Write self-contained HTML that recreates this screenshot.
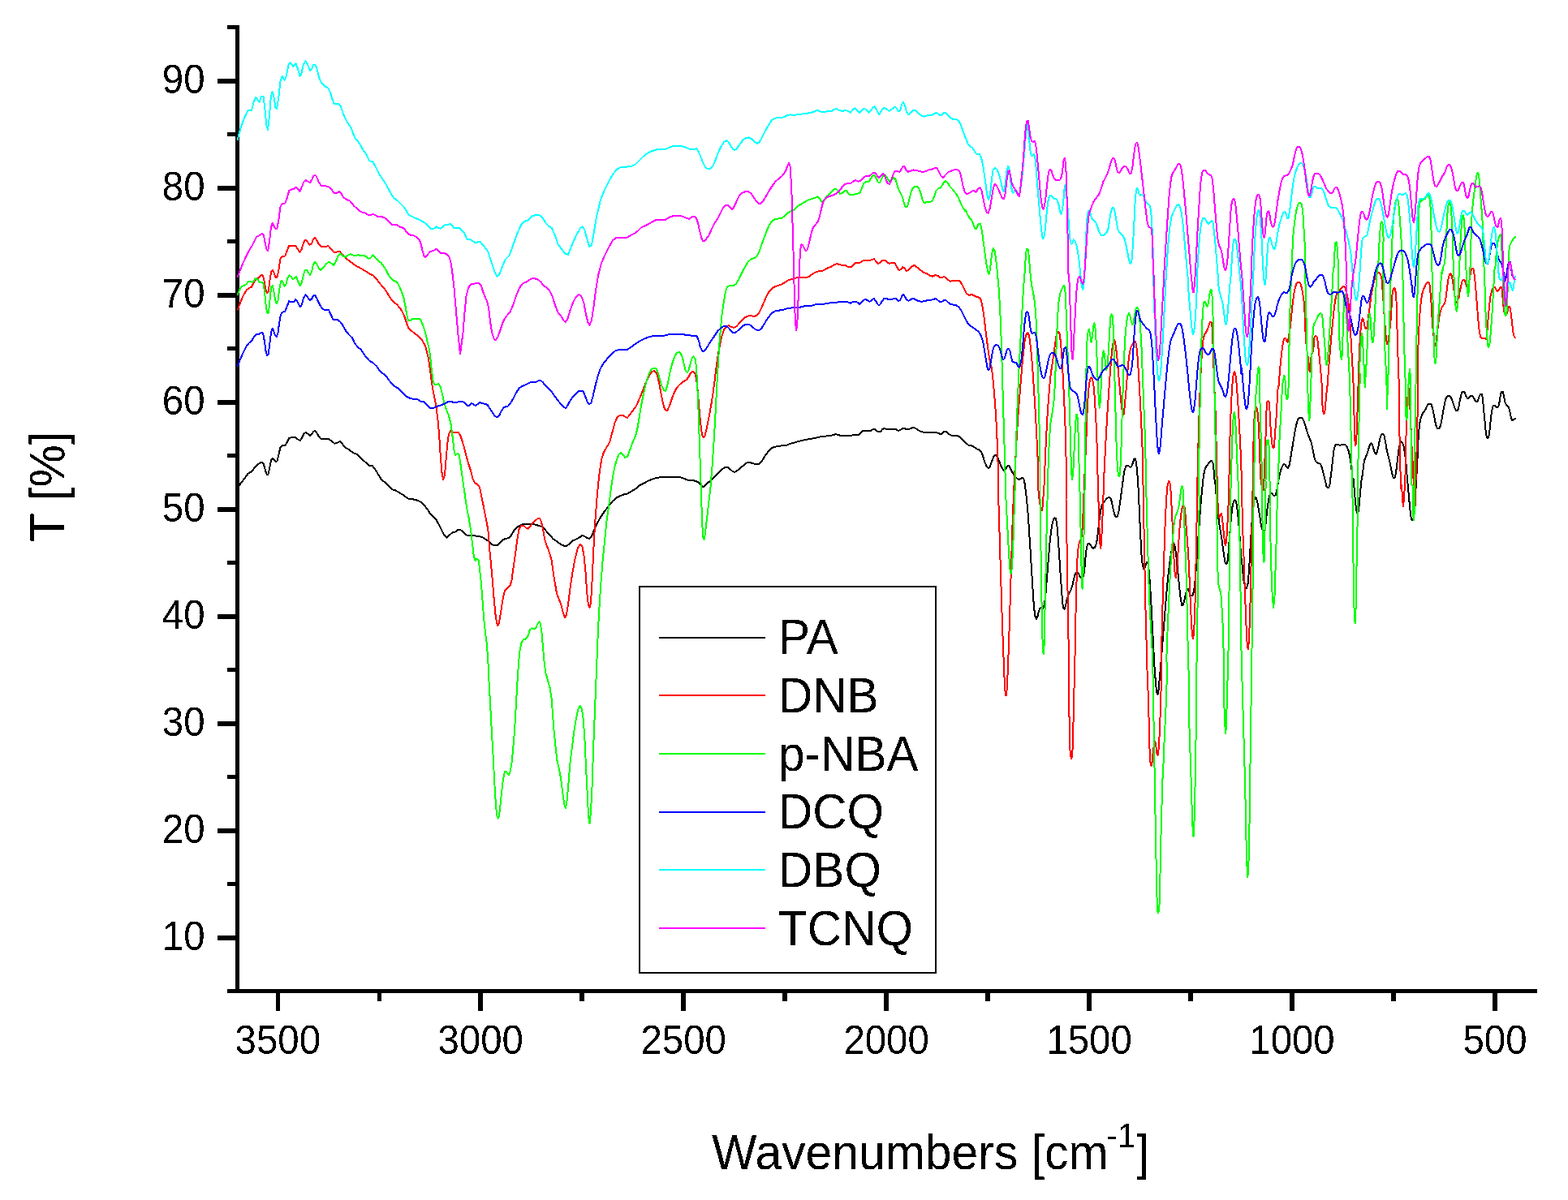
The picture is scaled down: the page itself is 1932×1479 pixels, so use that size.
<!DOCTYPE html>
<html lang="en">
<head>
<meta charset="utf-8">
<title>FTIR spectra</title>
<style>
html,body{margin:0;padding:0;background:#fff;}
body{width:1932px;height:1479px;overflow:hidden;}
svg{display:block;}
text{font-family:"Liberation Sans",Arial,Helvetica,sans-serif;fill:#000;filter:url(#crisp);}
.tick{font-size:47.4px;}
.ttl{font-size:58.9px;}
.leg{font-size:58.6px;}
.ax{stroke:#000;fill:none;shape-rendering:crispEdges;}
.cv{fill:none;stroke-width:2;stroke-linejoin:round;stroke-linecap:butt;shape-rendering:crispEdges;}
</style>
</head>
<body>
<svg width="1932" height="1479" viewBox="0 0 1932 1479">
<defs><filter id="crisp" x="-10%" y="-10%" width="120%" height="120%" color-interpolation-filters="sRGB"><feComponentTransfer><feFuncA type="discrete" tableValues="0 1"/></feComponentTransfer></filter></defs>
<rect x="0" y="0" width="1932" height="1479" fill="#fff"/>
<g id="axes" fill="#000" shape-rendering="crispEdges">
<rect x="290" y="31" width="5" height="1193"/>
<rect x="280" y="1219" width="1614" height="5"/>
<rect x="268" y="1153" width="24" height="6"/>
<rect x="268" y="1021" width="24" height="6"/>
<rect x="268" y="889" width="24" height="6"/>
<rect x="268" y="757" width="24" height="6"/>
<rect x="268" y="625" width="24" height="6"/>
<rect x="268" y="493" width="24" height="6"/>
<rect x="268" y="361" width="24" height="6"/>
<rect x="268" y="229" width="24" height="6"/>
<rect x="268" y="97" width="24" height="6"/>
<rect x="280" y="1087" width="12" height="5"/>
<rect x="280" y="955" width="12" height="5"/>
<rect x="280" y="823" width="12" height="5"/>
<rect x="280" y="691" width="12" height="5"/>
<rect x="280" y="559" width="12" height="5"/>
<rect x="280" y="427" width="12" height="5"/>
<rect x="280" y="295" width="12" height="5"/>
<rect x="280" y="163" width="12" height="5"/>
<rect x="280" y="31" width="12" height="5"/>
<rect x="1839" y="1220" width="6" height="26"/>
<rect x="1589" y="1220" width="6" height="26"/>
<rect x="1339" y="1220" width="6" height="26"/>
<rect x="1089" y="1220" width="6" height="26"/>
<rect x="839" y="1220" width="6" height="26"/>
<rect x="589" y="1220" width="6" height="26"/>
<rect x="340" y="1220" width="5" height="26"/>
<rect x="1714" y="1220" width="6" height="14"/>
<rect x="1464" y="1220" width="6" height="14"/>
<rect x="1214" y="1220" width="6" height="14"/>
<rect x="964" y="1220" width="6" height="14"/>
<rect x="714" y="1220" width="6" height="14"/>
<rect x="465" y="1220" width="5" height="14"/>
</g>
<g id="curves">
<polyline class="cv" stroke="#000000" points="292.5,602.5 296.2,596.2 301.2,590.0 305.5,583.8 310.0,581.2 313.8,576.2 317.5,572.5 321.2,570.0 323.2,569.5 325.0,572.5 327.0,580.0 328.8,585.0 330.2,585.5 332.0,577.5 334.0,567.5 335.8,564.5 338.0,567.0 340.0,569.5 341.5,568.0 343.5,560.0 345.5,551.2 347.5,549.5 351.2,548.8 353.8,545.0 356.2,540.0 359.5,539.2 364.5,539.2 367.5,542.0 370.0,543.0 372.0,539.5 374.5,534.5 377.0,533.0 379.5,535.0 382.0,536.8 384.5,535.0 386.2,532.0 388.0,531.0 390.0,533.0 392.5,537.5 395.0,540.5 400.0,541.2 405.0,541.2 408.8,543.8 412.5,546.8 416.2,545.5 418.8,544.2 421.2,546.2 425.0,551.2 430.0,554.2 435.0,558.0 440.0,560.0 445.0,565.0 450.0,569.5 455.0,573.8 458.8,574.2 462.5,578.8 466.2,585.0 470.0,591.2 475.0,595.0 478.8,598.8 482.5,603.0 487.5,604.5 492.5,607.5 497.5,610.5 502.5,614.5 507.5,615.0 512.5,616.2 517.5,618.0 522.5,622.5 526.2,627.0 530.0,633.0 533.8,637.0 537.5,640.5 541.2,647.5 545.0,655.0 548.0,660.5 550.5,662.5 553.8,659.5 557.5,656.2 561.2,655.5 563.8,653.2 566.2,652.5 569.5,654.2 573.0,658.0 576.2,660.5 581.2,660.0 586.2,660.5 591.2,661.2 595.0,662.5 598.8,665.0 602.5,667.5 606.2,671.2 609.5,672.5 613.0,672.0 616.2,668.8 620.0,665.0 623.8,663.8 627.5,663.0 630.5,658.8 633.8,653.2 637.5,649.5 642.5,646.8 647.5,645.5 652.5,645.5 657.5,646.2 662.5,647.5 667.5,648.8 671.2,652.5 676.2,658.0 681.2,663.8 686.2,667.5 691.2,671.2 695.5,673.0 698.8,672.5 702.5,669.5 706.2,666.2 710.0,664.5 713.8,662.5 717.5,660.0 720.5,661.2 723.8,663.2 726.2,663.8 728.8,661.2 731.2,655.0 735.0,646.2 740.0,637.5 745.0,630.0 750.0,623.8 755.0,617.5 760.0,613.2 765.0,610.8 770.0,609.0 772.8,608.5 778.0,605.5 783.0,602.5 788.0,598.2 793.0,595.8 798.0,593.0 803.0,590.8 809.2,588.8 815.5,588.2 821.8,587.5 828.0,587.5 834.2,587.5 838.5,588.2 843.0,590.0 848.0,591.8 853.0,592.0 858.0,593.0 861.8,595.5 864.2,598.8 866.8,600.0 869.2,597.5 871.8,595.0 875.5,593.0 879.2,589.2 883.0,585.0 886.8,581.2 890.0,578.0 893.0,576.2 896.8,576.2 900.0,578.8 903.0,581.2 905.5,581.8 909.2,579.5 913.0,576.2 916.8,573.0 920.0,570.5 923.0,570.0 926.8,570.8 930.5,572.0 934.2,572.5 936.8,570.8 940.0,566.2 943.0,561.2 946.8,556.2 950.5,552.5 954.2,550.8 959.2,550.0 964.2,549.2 969.2,548.8 973.0,547.0 978.0,545.8 983.0,544.2 988.0,543.0 993.0,541.8 999.2,540.8 1004.2,540.0 1008.0,538.8 1013.0,538.0 1018.0,537.5 1023.0,537.0 1026.8,536.2 1030.0,535.0 1033.0,536.2 1036.8,537.0 1041.8,537.0 1048.0,536.8 1053.0,536.2 1058.0,536.2 1060.5,533.8 1063.0,531.2 1066.0,530.5 1069.2,531.2 1072.5,531.2 1075.0,529.5 1077.5,528.8 1080.0,530.8 1082.5,532.5 1085.0,531.8 1087.5,528.8 1090.0,528.0 1093.0,529.2 1096.8,529.5 1100.5,529.0 1103.5,529.0 1106.8,530.8 1109.2,530.0 1111.8,528.2 1114.2,528.0 1117.5,529.5 1120.5,528.8 1123.5,527.5 1126.0,527.0 1128.5,528.2 1131.8,530.5 1135.0,531.8 1138.0,532.8 1143.0,532.8 1148.0,532.8 1153.0,532.8 1156.8,534.2 1159.2,535.5 1161.8,533.2 1164.2,531.5 1166.8,532.5 1169.2,535.0 1172.5,536.8 1176.8,537.0 1180.5,537.5 1183.5,539.2 1186.8,542.5 1190.0,545.8 1193.0,548.5 1196.8,549.2 1200.0,550.8 1203.0,553.0 1206.8,554.5 1209.2,557.0 1211.2,562.5 1213.5,570.0 1216.0,575.5 1218.0,577.5 1220.0,574.5 1222.0,568.8 1224.2,563.0 1226.8,560.5 1229.2,563.8 1231.8,570.0 1234.2,576.2 1236.8,580.0 1239.2,578.0 1241.2,574.5 1243.0,573.8 1245.0,577.5 1247.5,582.5 1250.5,587.0 1253.0,589.5 1255.8,591.2 1255.6,590.8 1258.6,589.5 1260.4,589.0 1261.8,591.7 1262.9,597.6 1263.9,606.4 1265.0,615.2 1266.0,625.8 1267.1,639.8 1268.1,655.7 1269.2,671.5 1270.2,689.1 1271.3,706.7 1272.4,724.3 1273.4,740.1 1274.5,752.5 1275.5,759.5 1276.9,763.0 1278.3,760.4 1279.8,754.2 1281.2,749.8 1282.6,749.3 1285.0,749.8 1286.8,745.4 1288.2,734.9 1289.6,717.3 1291.0,699.7 1292.4,682.1 1293.8,666.2 1295.2,653.9 1296.6,645.1 1298.1,639.8 1299.5,638.1 1300.9,639.0 1301.9,643.4 1303.0,653.9 1304.0,668.0 1305.1,683.8 1306.1,699.7 1307.2,715.5 1308.3,731.3 1309.3,743.7 1310.4,749.8 1311.8,750.7 1313.2,745.4 1314.6,738.4 1316.4,733.1 1318.1,729.6 1319.9,726.1 1321.6,720.8 1323.0,713.7 1324.5,708.5 1325.9,705.8 1327.6,705.3 1329.4,707.6 1330.8,711.1 1332.5,712.0 1334.3,711.1 1335.7,706.7 1336.8,696.1 1337.8,683.8 1338.9,675.0 1340.3,670.1 1341.7,669.8 1343.5,671.5 1345.2,674.2 1347.0,675.9 1348.7,675.0 1350.5,671.5 1351.9,664.5 1353.3,652.2 1354.7,639.8 1356.1,629.3 1357.5,623.1 1359.3,619.6 1361.6,617.0 1363.9,614.3 1366.0,612.6 1367.7,613.1 1369.2,616.1 1370.6,622.2 1372.0,629.3 1373.4,634.6 1375.1,637.2 1376.9,636.3 1378.3,631.0 1379.7,622.2 1381.1,611.7 1382.5,601.1 1383.9,590.6 1383.9,589.9 1385.3,581.1 1387.1,574.9 1388.9,573.5 1390.6,574.1 1392.4,575.8 1394.1,574.9 1395.9,570.5 1397.3,566.1 1398.7,565.3 1399.8,568.8 1400.8,577.6 1401.9,589.9 1401.9,590.6 1402.6,602.9 1403.3,617.0 1404.0,632.8 1404.7,648.6 1405.4,662.7 1406.1,676.8 1406.8,689.1 1407.9,697.0 1409.3,701.1 1410.7,699.7 1412.1,694.4 1413.5,692.6 1414.9,696.1 1416.0,706.7 1417.0,720.8 1418.1,738.4 1419.1,757.7 1420.2,777.1 1421.2,798.2 1422.3,819.3 1423.4,834.1 1424.4,846.4 1425.5,854.3 1426.5,856.1 1427.6,849.9 1428.6,837.6 1429.7,826.4 1431.1,808.8 1432.5,791.2 1433.9,773.6 1435.3,756.0 1436.7,738.4 1438.1,722.5 1439.5,708.5 1441.0,696.1 1442.4,685.6 1443.8,677.7 1445.2,672.4 1446.6,670.6 1448.0,675.0 1449.4,685.6 1450.8,699.7 1452.2,713.7 1453.6,727.8 1455.0,740.1 1456.4,746.3 1457.8,745.4 1459.3,740.1 1460.7,733.1 1462.1,727.8 1463.5,725.7 1464.9,727.8 1466.3,733.1 1468.1,734.5 1469.8,733.1 1471.2,727.8 1472.3,719.0 1473.3,706.7 1474.4,692.6 1475.4,676.8 1476.5,661.0 1477.6,646.9 1478.6,632.8 1480.0,615.2 1481.4,601.1 1482.5,589.9 1483.9,581.1 1485.7,575.8 1487.8,573.2 1489.5,570.5 1491.3,568.3 1493.0,567.9 1494.5,570.5 1495.5,579.3 1496.6,591.7 1497.1,592.3 1498.3,606.4 1499.7,622.2 1501.1,636.3 1502.5,646.9 1504.0,655.7 1505.4,664.5 1506.8,675.0 1508.2,685.6 1509.6,693.5 1511.0,695.3 1512.4,692.6 1513.5,682.1 1514.5,668.0 1515.6,653.9 1516.6,641.6 1517.7,631.0 1518.7,623.1 1520.1,617.8 1521.6,616.1 1523.0,617.8 1524.0,624.0 1525.1,632.8 1526.1,643.4 1527.2,655.7 1528.2,671.5 1529.3,687.3 1530.0,689.1 1531.1,703.2 1532.5,715.5 1534.2,722.5 1536.0,724.7 1537.4,720.8 1538.4,710.2 1539.5,694.4 1540.6,675.0 1541.6,657.4 1542.7,641.6 1544.1,625.8 1545.5,616.1 1546.9,613.1 1548.3,614.8 1549.7,620.5 1551.1,629.3 1552.5,638.1 1553.9,647.8 1555.7,653.9 1557.5,657.4 1558.9,652.2 1560.3,638.1 1561.7,625.8 1563.1,615.2 1564.8,609.0 1566.6,607.8 1568.4,609.9 1570.1,611.3 1571.9,609.9 1573.3,604.6 1575.1,593.4 1576.5,586.4 1578.2,579.3 1580.0,574.9 1581.7,572.3 1583.5,572.7 1585.3,575.8 1587.0,576.7 1588.4,574.1 1589.8,567.0 1591.2,558.2 1592.7,549.4 1594.1,540.6 1595.5,531.8 1596.9,524.8 1598.3,519.5 1599.7,516.0 1601.4,514.8 1603.2,514.6 1605.0,516.0 1606.7,519.5 1608.5,524.8 1610.2,530.9 1612.0,536.2 1613.8,540.6 1615.5,545.0 1616.9,550.3 1618.3,558.2 1619.8,565.3 1621.2,568.8 1623.3,570.5 1625.4,570.9 1627.1,572.3 1628.6,575.8 1630.0,581.1 1631.4,586.4 1632.8,592.5 1634.2,597.8 1634.5,599.4 1635.9,601.5 1637.3,600.8 1638.8,595.8 1639.1,591.7 1640.5,581.1 1641.9,568.8 1643.0,558.2 1644.0,552.1 1645.4,548.5 1647.6,547.7 1649.7,548.5 1651.8,548.5 1653.9,547.7 1656.0,547.7 1658.1,548.5 1659.9,551.2 1661.6,555.6 1663.0,561.7 1664.5,570.5 1665.9,582.9 1666.9,593.4 1667.6,590.6 1668.7,602.9 1669.7,615.2 1670.8,625.8 1671.8,631.9 1672.9,632.8 1674.0,629.3 1675.0,618.7 1676.1,606.4 1677.1,595.8 1678.2,587.0 1678.9,586.4 1679.9,574.1 1681.3,567.0 1683.1,562.6 1684.9,558.2 1686.6,552.1 1688.4,547.3 1689.8,546.3 1691.2,548.5 1692.6,553.8 1694.0,558.2 1695.4,559.6 1696.8,557.3 1698.2,551.2 1699.6,544.1 1701.1,538.0 1702.5,535.0 1704.2,534.5 1705.6,537.1 1707.0,544.1 1708.4,552.9 1709.9,560.0 1711.3,565.3 1712.7,570.5 1714.1,577.6 1715.5,584.6 1716.9,589.0 1718.3,589.5 1719.7,584.6 1721.1,574.1 1722.5,561.7 1723.9,551.2 1725.3,545.5 1726.7,544.5 1728.2,545.9 1729.6,550.3 1731.0,558.2 1732.4,570.5 1733.4,584.6 1733.8,587.0 1734.8,599.4 1735.9,611.7 1737.0,624.0 1738.0,634.6 1739.1,640.2 1740.5,641.2 1741.9,638.1 1742.9,629.3 1744.0,615.2 1744.7,597.6 1746.2,573.2 1746.8,558.4 1747.4,543.7 1748.2,531.9 1749.2,522.0 1750.4,516.1 1751.7,512.2 1753.1,509.3 1754.7,507.3 1756.1,505.3 1757.2,502.9 1758.4,500.4 1759.6,498.4 1761.0,497.5 1762.3,497.5 1763.5,498.4 1764.5,501.4 1765.5,505.3 1766.5,510.2 1767.5,515.2 1768.4,520.1 1769.4,524.0 1770.4,527.0 1771.4,528.1 1772.6,528.4 1773.8,527.4 1774.7,525.0 1775.7,521.1 1776.7,516.1 1777.5,511.2 1778.3,506.3 1779.1,502.4 1779.9,498.4 1780.6,494.5 1781.4,491.6 1782.4,489.4 1783.6,488.1 1785.0,487.6 1786.3,488.1 1787.5,489.6 1788.7,491.6 1789.7,494.5 1790.7,497.5 1791.7,500.4 1792.6,503.4 1793.6,505.3 1794.8,506.3 1796.0,505.8 1797.0,503.4 1797.8,499.4 1798.5,495.5 1799.3,491.6 1800.1,487.6 1800.9,484.2 1801.7,482.9 1802.9,482.5 1804.0,482.7 1805.0,484.2 1805.8,487.1 1806.8,489.1 1808.0,490.8 1809.2,491.1 1810.3,489.8 1811.5,488.4 1812.7,487.8 1813.9,488.1 1815.1,489.1 1816.2,491.1 1817.4,493.5 1818.6,495.0 1819.8,495.3 1821.0,494.0 1821.9,491.1 1822.9,488.1 1823.9,486.1 1824.9,485.5 1825.9,486.1 1826.7,489.6 1827.3,495.5 1827.8,501.4 1828.4,507.3 1829.0,514.2 1829.6,520.1 1830.2,527.0 1830.8,532.9 1831.6,537.3 1832.4,539.7 1833.4,539.9 1834.3,538.3 1835.1,533.8 1835.7,527.9 1836.3,522.0 1836.9,516.1 1837.5,511.2 1838.1,507.3 1838.9,503.4 1839.8,500.4 1841.0,499.4 1842.2,499.9 1843.4,501.6 1844.6,502.2 1845.7,501.9 1846.7,499.4 1847.5,495.5 1848.3,490.6 1849.1,485.7 1849.9,483.2 1850.9,482.7 1851.8,483.2 1852.6,486.1 1853.4,490.6 1854.2,494.5 1855.0,497.5 1856.2,498.9 1857.3,500.2 1858.5,501.6 1859.5,503.8 1860.3,507.3 1861.1,511.2 1861.9,515.2 1862.9,517.6 1864.0,518.1 1865.2,517.1 1866.4,516.1 1867.6,515.2"/>
<polyline class="cv" stroke="#ff0000" points="292.5,382.5 296.2,372.5 300.0,363.8 303.8,357.5 307.0,355.0 310.0,353.8 313.0,347.5 316.2,343.8 319.5,342.0 322.0,338.8 324.0,339.5 325.8,347.5 327.5,357.5 329.2,360.8 330.8,358.8 332.5,345.0 334.2,335.0 335.8,332.5 337.5,336.2 339.5,342.0 341.0,342.5 343.0,335.0 345.5,318.8 347.5,316.2 351.2,315.5 353.8,308.8 356.2,303.0 360.0,303.2 364.5,303.2 367.0,307.5 369.5,310.5 371.5,307.5 374.0,299.5 376.2,295.5 378.8,298.0 381.5,302.0 384.0,300.0 386.0,295.0 388.0,293.0 390.0,295.5 392.5,300.5 395.5,303.8 400.0,304.5 404.5,303.0 407.5,306.2 411.2,310.8 415.0,310.5 418.8,310.0 421.2,313.0 425.0,317.5 430.0,321.2 435.0,325.0 438.8,328.0 442.5,329.5 447.5,332.5 452.5,335.5 456.2,338.0 460.0,339.5 463.8,343.8 467.5,348.8 471.2,353.0 475.0,357.5 478.8,363.8 482.5,369.5 486.2,373.0 490.0,376.2 493.8,381.2 496.2,385.0 498.8,391.2 501.2,398.8 503.8,405.0 507.5,408.2 511.2,411.2 515.0,413.8 518.8,417.5 521.2,421.2 523.8,426.2 525.0,429.8 527.0,437.5 528.8,447.5 530.5,460.0 532.5,475.0 535.0,488.8 537.5,501.2 539.5,517.5 541.2,537.5 543.0,565.0 544.5,582.5 546.2,591.2 548.0,585.0 549.5,567.5 551.2,547.5 553.0,535.0 555.0,530.8 557.5,533.0 561.2,533.0 565.0,533.0 567.5,537.5 570.0,545.0 572.5,553.8 575.0,563.8 577.5,572.5 580.0,580.0 582.5,590.0 585.0,595.0 588.8,597.5 591.2,601.2 593.0,610.0 595.5,622.5 598.0,635.0 600.0,645.0 601.5,655.0 603.0,675.0 605.0,695.0 607.0,717.5 608.8,740.0 610.5,757.5 612.0,767.5 613.2,771.2 615.0,767.5 617.0,755.0 619.5,738.8 622.0,727.5 625.5,725.0 628.8,721.2 630.5,715.0 632.5,700.0 635.0,682.5 637.5,663.8 639.5,652.5 642.0,648.2 645.0,647.5 648.0,650.5 650.5,651.8 653.0,648.8 656.2,645.0 660.0,641.2 663.0,638.8 665.0,638.8 666.8,642.5 668.8,651.2 671.2,665.0 673.8,672.5 677.0,681.2 679.5,690.0 682.0,707.5 684.5,722.5 686.2,732.5 688.8,738.8 691.2,745.0 693.8,755.0 696.2,761.2 698.0,757.5 700.0,745.0 702.5,725.0 705.5,705.0 708.8,687.5 712.0,675.0 715.0,671.2 717.5,673.8 719.5,685.0 721.5,705.0 723.2,730.0 725.0,746.2 726.5,749.2 728.0,742.5 729.5,717.5 731.2,680.0 733.0,647.5 735.0,620.0 737.0,597.5 739.0,580.0 741.2,566.2 743.8,557.5 747.5,551.2 751.2,545.0 754.5,532.5 757.5,521.2 760.5,514.5 763.8,511.8 767.5,512.0 772.8,515.0 776.8,510.0 780.5,505.0 784.2,500.0 786.8,493.8 790.0,486.2 793.0,478.8 796.0,471.2 798.5,465.5 801.0,460.8 803.5,458.0 806.0,457.0 808.5,459.2 810.5,465.0 812.5,473.8 814.5,485.0 816.5,495.0 818.5,502.5 820.5,506.2 822.5,505.5 825.0,500.0 827.5,492.5 830.0,485.5 833.0,479.5 836.0,475.5 839.2,472.5 842.5,470.0 846.0,468.0 848.8,463.8 851.2,459.5 853.5,458.0 856.0,459.5 858.0,466.2 859.5,480.0 861.0,497.5 862.5,515.0 864.0,528.8 865.5,537.0 867.0,538.8 868.5,537.0 870.5,528.8 872.5,518.8 874.5,508.8 876.5,497.5 878.5,485.0 880.5,470.0 882.2,455.0 884.0,442.5 886.0,430.0 888.0,420.0 890.0,412.5 892.5,405.5 895.5,401.8 898.0,401.2 901.0,403.2 904.2,403.8 907.2,402.5 910.5,398.8 914.2,394.5 918.0,391.2 921.8,389.5 925.5,389.0 929.2,390.0 932.5,388.8 935.5,385.0 938.5,378.8 941.8,371.2 945.0,363.8 948.0,358.8 951.8,355.0 955.5,353.0 959.2,351.8 963.0,350.5 966.8,348.2 970.5,345.8 974.2,344.5 978.0,343.2 983.0,342.0 988.0,342.0 993.0,342.5 996.8,340.8 1000.5,338.2 1004.2,335.8 1008.0,334.5 1013.0,334.2 1016.8,332.0 1020.5,330.0 1024.2,328.8 1028.0,326.2 1031.0,325.0 1034.2,326.2 1038.0,327.0 1041.8,327.0 1045.0,329.2 1048.0,329.5 1051.0,327.0 1054.2,324.2 1058.0,324.2 1061.0,323.0 1064.2,320.5 1068.0,320.5 1071.8,320.8 1074.2,320.0 1076.8,319.2 1079.2,321.8 1081.8,325.0 1084.2,324.2 1086.8,320.8 1090.0,320.5 1093.0,323.0 1096.0,325.0 1099.2,323.8 1102.5,324.2 1105.0,328.8 1107.5,333.2 1110.0,332.0 1112.2,329.2 1114.5,330.5 1116.8,333.8 1119.2,333.2 1121.8,330.5 1124.2,328.0 1126.8,327.0 1130.0,329.5 1134.2,333.0 1138.0,335.8 1141.8,337.0 1145.5,339.5 1149.2,340.8 1152.5,338.8 1155.5,340.0 1159.2,342.5 1162.5,341.2 1165.5,342.0 1168.0,345.0 1171.0,346.8 1175.5,345.8 1179.2,345.8 1182.2,345.8 1185.0,350.0 1188.0,356.2 1191.0,362.0 1194.2,363.8 1197.5,363.0 1200.5,364.5 1204.2,366.2 1207.5,367.0 1209.2,371.2 1211.0,380.0 1213.0,395.0 1215.0,412.5 1215.0,412.2 1216.4,422.7 1217.8,433.3 1219.2,442.1 1220.6,449.1 1222.0,454.4 1223.4,466.7 1224.8,482.5 1226.1,498.4 1227.3,516.0 1228.4,537.1 1229.2,560.0 1230.1,586.4 1229.8,597.6 1230.8,632.8 1231.9,668.0 1232.9,703.2 1234.0,738.4 1235.1,773.6 1236.1,800.0 1237.2,826.4 1237.9,844.6 1238.9,857.0 1240.0,857.0 1241.0,844.6 1242.1,817.6 1243.1,791.2 1244.2,756.0 1245.3,720.8 1246.3,685.6 1247.4,650.4 1248.4,624.0 1249.5,597.6 1251.2,568.8 1252.7,538.9 1254.1,516.0 1255.5,498.4 1256.9,480.8 1258.3,463.2 1259.7,447.3 1261.1,433.3 1262.5,421.0 1263.9,413.9 1265.3,410.7 1266.7,410.4 1268.1,413.9 1269.5,424.5 1271.0,438.6 1272.4,456.1 1273.8,477.3 1275.2,498.4 1276.6,523.0 1278.0,551.2 1279.2,577.6 1278.5,594.1 1279.8,608.2 1281.2,620.5 1282.6,628.4 1283.6,629.3 1284.7,624.0 1285.7,609.9 1286.8,594.1 1287.7,568.8 1288.9,542.4 1290.3,516.0 1291.7,494.9 1293.1,477.3 1294.5,463.2 1295.9,452.6 1297.3,443.8 1298.8,433.3 1300.2,422.7 1301.6,413.9 1303.0,409.5 1304.4,408.6 1305.8,412.2 1307.0,422.7 1308.3,438.6 1309.3,456.1 1310.4,477.3 1311.4,498.4 1312.5,524.8 1313.2,551.2 1313.9,577.6 1313.5,615.2 1314.2,650.4 1314.9,694.4 1315.7,738.4 1316.4,782.4 1317.1,817.6 1317.2,860.5 1317.9,911.5 1318.8,930.9 1320.2,935.3 1321.3,930.9 1322.3,899.2 1323.4,853.4 1324.5,808.8 1325.5,756.0 1326.6,713.7 1327.6,685.6 1329.0,671.5 1330.4,667.1 1332.2,664.5 1333.4,655.7 1334.3,638.1 1335.2,615.2 1336.1,594.1 1338.7,533.6 1339.6,507.2 1340.6,489.6 1341.7,475.5 1343.1,467.6 1344.5,465.5 1345.9,466.7 1347.3,473.7 1348.7,489.6 1349.8,507.2 1350.7,524.8 1351.4,542.4 1351.9,560.0 1352.4,580.0 1352.8,597.6 1353.7,624.0 1354.5,650.4 1355.4,669.8 1356.3,675.9 1357.2,664.5 1358.1,646.9 1358.9,625.8 1359.8,602.9 1360.7,577.6 1362.1,551.2 1363.5,524.8 1364.9,501.9 1366.3,480.8 1367.7,461.4 1369.2,442.1 1370.6,428.0 1372.0,420.1 1373.4,419.2 1374.8,426.2 1376.2,438.6 1377.6,454.4 1379.0,470.2 1380.4,486.1 1381.8,500.1 1383.2,508.9 1384.6,510.7 1386.0,498.4 1387.5,480.8 1388.9,463.2 1390.3,447.3 1391.7,435.0 1393.4,428.0 1395.2,424.5 1397.0,421.3 1398.7,421.0 1400.1,424.5 1401.5,438.6 1402.9,459.7 1404.3,484.3 1405.8,512.5 1407.2,542.4 1408.2,568.8 1408.6,606.4 1409.3,641.6 1410.0,676.8 1410.7,712.0 1411.4,747.2 1412.1,773.6 1412.8,800.0 1413.5,826.4 1414.6,853.4 1415.6,886.9 1416.3,918.6 1417.4,939.7 1418.4,944.1 1419.5,939.7 1420.5,929.1 1421.9,918.6 1423.4,914.2 1424.4,920.3 1425.5,929.1 1426.5,930.9 1427.6,923.8 1428.6,906.2 1429.7,879.8 1430.7,846.4 1431.1,800.0 1432.2,756.0 1433.2,720.8 1434.3,685.6 1435.3,653.9 1436.4,629.3 1437.4,611.7 1438.5,599.4 1439.9,593.2 1441.3,594.1 1442.4,602.9 1443.4,620.5 1444.5,643.4 1445.5,668.0 1446.6,690.9 1447.6,706.7 1448.7,712.0 1449.8,706.7 1450.8,692.6 1451.9,675.0 1452.9,659.2 1454.0,645.1 1455.4,632.8 1456.8,624.9 1458.2,622.2 1459.6,625.8 1460.7,636.3 1461.7,650.4 1462.8,664.5 1463.8,678.6 1464.9,696.1 1465.9,720.8 1467.0,747.2 1468.1,770.1 1469.1,784.1 1470.2,786.8 1471.2,777.1 1472.3,752.5 1473.0,720.8 1473.7,685.6 1474.4,650.4 1475.1,615.2 1475.8,568.8 1476.9,533.6 1477.9,498.4 1479.0,472.0 1480.0,449.1 1481.3,429.8 1482.7,417.4 1484.2,412.2 1486.0,409.5 1487.8,406.0 1489.5,400.7 1490.9,397.2 1492.3,396.7 1493.4,400.7 1494.1,413.9 1494.8,431.5 1495.5,454.4 1496.2,477.3 1497.3,498.4 1498.0,524.8 1498.7,551.2 1499.4,577.6 1499.7,601.1 1500.6,622.2 1501.8,638.1 1503.3,636.3 1504.7,632.8 1505.7,636.3 1506.8,646.9 1507.8,657.4 1508.9,668.0 1509.9,672.4 1511.0,668.0 1512.0,653.9 1513.1,632.8 1514.2,606.4 1514.9,560.0 1515.9,524.8 1517.0,498.4 1518.0,479.0 1519.4,463.2 1520.8,457.9 1522.3,461.4 1523.7,473.7 1525.1,493.1 1526.5,516.0 1527.9,542.4 1529.3,568.8 1530.0,604.6 1530.7,632.8 1531.4,657.4 1532.5,685.6 1533.5,717.3 1534.6,747.2 1535.6,773.6 1536.7,794.7 1537.7,800.0 1538.8,791.2 1539.9,764.8 1540.9,729.6 1541.6,694.4 1542.3,659.2 1543.0,624.0 1543.7,597.6 1543.7,597.6 1544.0,573.2 1544.6,538.8 1545.4,518.1 1546.2,507.3 1547.1,502.9 1548.1,501.9 1549.1,504.3 1549.9,511.2 1550.7,522.0 1551.3,533.8 1551.9,553.5 1552.5,571.2 1553.2,587.9 1554.2,596.8 1555.4,602.7 1556.6,604.2 1557.4,592.8 1558.0,578.1 1558.6,563.3 1559.3,545.6 1559.9,524.0 1560.5,506.3 1561.3,495.5 1562.5,494.1 1563.7,495.5 1564.5,506.3 1565.2,521.1 1566.0,533.8 1567.0,544.7 1568.0,550.6 1569.0,552.3 1570.0,550.6 1570.7,538.8 1571.7,526.0 1572.7,512.2 1573.7,493.5 1574.7,476.8 1575.6,475.3 1576.3,465.7 1577.0,455.9 1578.0,446.0 1579.0,436.2 1580.0,428.3 1581.0,422.4 1582.0,418.0 1583.1,416.5 1584.3,417.5 1585.3,420.5 1586.5,421.5 1587.3,418.5 1588.1,413.6 1589.0,407.7 1590.0,402.8 1590.8,392.9 1591.8,383.1 1592.8,373.3 1593.8,365.4 1594.9,358.5 1596.1,353.6 1597.5,349.7 1598.9,347.9 1600.2,347.5 1601.6,348.2 1602.8,350.7 1603.8,354.6 1604.8,359.5 1605.8,365.4 1606.5,371.3 1607.1,378.2 1607.7,387.0 1608.1,396.9 1608.5,408.7 1609.1,418.5 1609.7,426.4 1610.7,434.2 1611.7,440.1 1612.4,446.0 1613.0,452.9 1613.6,457.4 1614.2,457.8 1614.8,451.0 1615.4,441.1 1616.4,436.2 1617.4,434.2 1618.3,432.3 1618.7,424.4 1619.3,416.5 1620.1,414.4 1621.3,414.2 1622.5,414.6 1623.3,418.5 1624.0,424.4 1624.8,432.3 1625.6,440.1 1626.4,448.0 1627.2,456.9 1628.0,465.7 1628.8,475.3 1629.0,494.5 1629.8,502.4 1630.5,508.3 1631.4,510.4 1632.3,508.3 1633.1,499.4 1634.1,488.6 1635.1,476.8 1635.6,475.3 1636.2,465.7 1637.0,455.9 1637.8,446.0 1638.6,436.2 1639.4,426.4 1640.2,416.5 1641.0,408.7 1641.7,400.8 1642.5,392.9 1643.3,385.1 1644.1,378.2 1644.9,372.3 1645.7,367.4 1646.7,363.4 1647.8,360.5 1649.0,359.0 1650.2,358.0 1651.4,356.6 1652.6,355.1 1653.7,354.1 1654.9,353.1 1656.1,352.8 1657.1,353.6 1657.9,356.1 1658.7,359.5 1659.6,362.5 1660.6,367.4 1661.6,374.3 1662.4,383.1 1663.2,393.9 1664.0,406.7 1664.6,418.5 1665.2,428.3 1665.7,438.2 1666.3,448.0 1666.9,459.8 1667.5,471.6 1667.9,484.7 1668.3,502.4 1668.7,520.1 1669.1,532.9 1669.5,543.7 1670.1,549.4 1670.9,545.6 1671.4,538.8 1672.2,522.0 1673.0,486.6 1673.6,474.8 1674.0,457.8 1674.6,443.1 1675.2,428.3 1675.8,418.5 1676.4,408.7 1677.2,398.8 1677.9,393.9 1678.9,392.4 1679.9,393.9 1680.7,397.9 1681.5,401.8 1682.5,404.7 1683.6,405.2 1684.6,402.8 1685.2,397.9 1686.0,391.0 1686.8,385.1 1687.6,379.2 1688.4,372.3 1689.2,366.4 1690.1,360.5 1691.1,355.6 1692.1,350.7 1693.3,345.7 1694.5,341.8 1695.6,338.9 1696.8,336.9 1698.0,335.7 1699.2,335.9 1700.4,337.4 1701.5,339.8 1702.5,343.8 1703.1,352.6 1703.9,361.5 1704.7,373.3 1705.5,387.0 1706.5,400.8 1707.5,412.6 1708.5,420.5 1709.4,424.2 1710.2,423.4 1711.0,418.5 1712.0,408.7 1713.2,398.8 1714.3,385.1 1714.9,369.3 1715.7,361.5 1716.7,356.6 1717.7,354.6 1718.9,355.8 1719.7,360.5 1720.5,371.3 1721.0,391.0 1721.6,408.7 1722.2,430.3 1722.8,448.0 1723.4,466.7 1723.6,468.0 1724.0,504.3 1724.6,543.7 1725.4,578.1 1726.4,602.7 1727.1,597.6 1727.8,611.7 1728.9,624.0 1729.9,615.2 1731.0,597.6 1730.7,602.7 1731.3,592.8 1732.1,563.3 1732.7,526.0 1733.4,516.1 1734.2,499.4 1734.7,482.7 1735.2,477.8 1735.8,478.8 1736.6,481.7 1737.4,502.4 1738.2,520.1 1739.1,543.7 1740.3,563.3 1741.3,583.0 1741.9,602.7 1742.2,604.6 1743.3,629.3 1744.3,606.4 1743.9,610.3 1744.5,592.8 1745.0,578.1 1745.6,553.5 1746.2,524.0 1746.8,504.3 1747.4,479.8 1746.8,451.9 1747.6,422.4 1748.6,399.8 1749.6,385.1 1750.5,375.2 1751.5,367.4 1752.5,361.5 1753.7,357.5 1754.9,354.6 1756.1,352.1 1757.2,349.7 1758.4,348.5 1759.6,348.2 1760.8,348.7 1761.6,351.6 1762.3,358.5 1763.1,367.4 1763.9,378.2 1764.5,391.0 1765.3,402.8 1766.3,412.6 1767.3,420.5 1768.1,424.9 1768.6,426.4 1769.2,424.4 1770.0,418.5 1771.0,408.7 1772.2,398.8 1773.4,391.0 1774.5,385.1 1775.7,381.1 1776.9,378.2 1778.3,376.2 1779.7,374.3 1780.8,371.3 1781.8,365.4 1782.6,358.5 1783.4,351.6 1784.2,345.7 1785.2,340.8 1786.1,338.1 1787.1,337.4 1788.1,338.4 1788.9,340.8 1789.7,344.8 1790.5,349.7 1791.3,355.6 1792.0,361.5 1792.8,367.4 1793.6,371.3 1794.4,373.3 1795.2,372.3 1796.2,369.3 1797.4,367.4 1798.3,361.5 1799.3,356.6 1800.3,351.6 1801.3,347.7 1802.3,345.2 1803.5,344.6 1804.6,345.2 1805.6,347.7 1806.4,350.7 1807.4,353.1 1808.4,354.1 1809.2,353.6 1809.9,349.7 1810.7,343.8 1811.5,338.9 1812.3,334.9 1813.1,332.0 1814.1,330.5 1815.1,331.0 1816.0,333.9 1816.8,339.8 1817.6,347.7 1818.4,356.6 1819.2,366.4 1820.0,377.2 1820.8,387.0 1821.6,396.9 1822.3,404.7 1823.1,410.6 1824.1,414.6 1825.3,416.5 1826.9,417.0 1828.4,417.3 1829.8,417.5 1831.2,417.7 1831.8,415.6 1832.4,408.7 1833.2,398.8 1833.9,389.0 1834.7,381.1 1835.5,373.3 1836.3,366.4 1837.3,361.5 1838.5,357.5 1839.6,354.6 1840.8,353.6 1842.0,354.1 1843.2,356.6 1844.4,358.5 1845.5,359.0 1846.7,357.5 1847.9,355.1 1849.1,353.6 1850.1,354.1 1850.9,358.5 1851.4,365.4 1852.0,373.3 1852.6,379.2 1853.4,384.1 1854.2,387.0 1855.0,388.5 1855.8,387.8 1856.6,386.5 1857.3,385.1 1858.1,380.2 1858.9,377.7 1859.9,378.0 1860.9,380.2 1861.7,386.1 1862.5,392.9 1863.3,399.8 1864.0,406.7 1864.8,411.6 1865.8,414.6 1866.8,416.3 1867.7,416.7"/>
<polyline class="cv" stroke="#00ff00" points="292.5,363.8 295.0,357.5 297.5,353.0 301.2,352.0 303.8,350.0 306.2,346.8 309.5,347.5 312.0,347.5 314.5,343.2 317.0,344.2 320.0,348.0 323.2,347.5 325.0,351.2 326.5,365.0 328.0,380.0 329.5,386.2 331.0,385.0 332.5,370.0 334.2,353.8 335.8,351.8 337.5,360.0 339.5,371.2 341.0,374.5 342.5,370.0 344.5,355.0 346.5,345.8 348.2,347.5 350.5,353.0 352.5,350.0 354.5,342.5 356.5,339.5 358.8,341.2 361.2,344.2 363.2,342.5 365.2,341.2 367.5,347.5 369.8,352.5 371.5,348.8 373.8,339.5 375.8,333.0 378.0,332.5 380.0,336.2 382.0,338.8 384.0,335.0 386.0,326.2 388.0,323.0 390.0,325.0 392.5,330.0 395.0,333.0 398.0,330.5 401.2,326.2 405.0,322.5 408.0,324.5 411.2,327.0 413.8,322.5 416.2,316.2 419.2,312.5 422.0,315.0 425.0,317.0 428.8,314.5 432.0,313.2 435.0,314.5 438.0,315.5 441.2,313.8 444.5,315.5 448.0,315.0 451.2,316.2 454.5,318.8 457.0,317.5 459.5,314.5 462.5,318.0 466.2,321.2 469.5,323.8 472.5,328.0 476.2,333.8 480.0,341.2 483.8,345.0 487.5,347.0 490.0,348.8 492.5,353.8 495.0,360.0 497.5,367.5 499.5,377.5 501.2,387.5 503.0,395.0 505.5,395.5 508.8,392.5 512.5,392.5 516.2,392.5 518.8,395.0 521.2,401.2 523.8,408.8 525.8,417.5 527.5,425.0 528.8,429.8 530.5,442.5 532.0,457.5 533.8,471.2 536.2,474.5 540.0,473.0 542.5,476.2 544.5,483.8 547.0,495.0 550.0,505.0 553.0,512.5 555.5,522.5 557.5,537.5 559.5,555.0 561.2,561.2 563.8,558.8 565.8,561.2 567.5,572.5 570.0,590.0 572.5,607.5 575.0,625.0 577.5,637.5 580.0,652.5 582.0,670.0 583.8,685.0 585.5,691.2 587.5,688.8 589.5,690.0 591.2,702.5 593.0,720.0 594.5,740.0 596.2,762.5 598.0,780.0 600.0,795.0 601.5,817.5 602.5,840.0 603.8,862.5 605.0,885.0 606.2,907.5 607.5,930.0 608.8,955.0 610.0,977.5 611.2,995.0 612.5,1006.2 613.8,1008.8 615.0,1005.0 616.2,995.0 618.0,977.5 620.0,960.0 622.0,950.8 623.8,950.8 625.5,953.8 627.0,955.0 628.8,950.0 630.5,940.0 632.0,925.0 633.5,907.5 635.0,885.0 636.2,862.5 637.5,840.0 639.0,817.5 640.5,802.5 642.5,792.5 645.0,788.2 648.0,787.5 650.5,783.8 653.0,776.2 655.5,774.2 658.0,775.5 660.5,773.8 662.5,768.8 664.5,766.2 666.0,768.8 667.5,780.0 669.0,797.5 670.5,815.0 672.5,830.0 675.0,838.8 677.5,847.5 679.5,860.0 681.0,880.0 682.5,900.0 684.5,920.0 686.5,937.5 688.8,947.5 691.2,960.0 693.0,975.0 695.0,990.0 696.8,996.2 698.5,987.5 700.5,965.0 702.5,940.0 705.0,920.0 707.5,900.0 710.0,885.0 712.5,873.8 715.0,870.0 717.0,873.8 718.8,887.5 720.5,912.5 722.0,945.0 723.8,980.0 725.0,1005.0 726.5,1015.0 728.0,1000.0 729.5,970.0 731.0,925.0 732.5,887.5 734.0,850.0 735.5,812.5 737.0,775.0 738.8,742.5 740.5,717.5 742.5,692.5 745.0,667.5 747.5,642.5 750.0,625.0 752.5,605.0 755.0,587.5 757.5,575.0 760.0,566.2 762.5,560.0 765.0,558.2 767.5,560.5 770.0,563.8 772.8,563.2 776.0,555.0 779.2,546.2 783.0,537.5 785.5,527.5 788.0,512.5 790.5,497.5 793.0,485.0 795.5,473.8 798.0,465.0 800.5,458.8 803.0,455.0 805.5,453.8 808.5,454.5 811.0,460.0 813.0,467.5 815.5,476.2 818.0,481.2 820.0,482.0 822.0,476.2 824.0,466.2 826.0,456.2 828.5,447.5 831.0,440.0 833.5,435.5 836.0,433.8 838.5,435.0 841.0,441.2 843.0,450.0 845.0,457.5 846.8,459.2 848.5,456.2 850.5,448.8 852.5,442.0 854.5,439.5 856.5,442.5 858.0,452.5 859.2,475.0 860.5,505.0 861.5,535.0 862.5,565.0 863.5,595.0 864.5,625.0 865.5,650.0 866.5,662.5 867.5,665.0 868.5,660.0 870.0,647.5 871.8,632.5 873.5,617.5 875.5,600.0 877.5,575.0 879.2,550.0 881.0,520.0 882.5,490.0 884.0,462.5 885.5,437.5 887.0,415.0 888.0,405.0 889.8,385.0 891.8,372.5 893.8,360.0 896.0,353.8 899.2,351.8 903.0,352.5 906.8,350.0 910.5,343.8 914.2,336.2 918.0,328.8 921.8,322.5 925.5,319.2 929.2,318.2 932.5,316.2 935.5,310.0 938.5,301.2 941.8,292.5 945.0,283.8 948.0,277.0 951.8,272.0 955.5,270.0 959.2,269.5 963.0,268.8 966.8,266.2 970.5,262.5 974.2,260.5 978.0,258.8 981.8,255.0 985.5,252.5 989.2,250.5 993.0,248.0 996.8,246.2 1000.5,245.0 1004.2,243.8 1007.5,242.5 1010.0,245.0 1012.5,248.8 1015.0,247.5 1017.5,243.8 1020.5,240.5 1023.8,237.5 1026.8,233.8 1030.0,232.5 1032.5,235.0 1035.0,238.8 1038.0,238.0 1040.5,235.0 1043.0,235.0 1045.5,238.8 1048.0,240.5 1051.8,240.0 1055.5,238.8 1059.2,238.0 1061.8,232.5 1064.2,226.2 1067.5,223.8 1070.5,223.8 1073.0,220.0 1075.5,216.2 1077.5,215.8 1079.8,220.0 1081.8,224.5 1083.8,225.5 1086.0,221.2 1088.5,216.2 1091.0,216.2 1093.5,220.0 1096.0,223.8 1098.0,222.5 1100.5,219.2 1103.0,220.0 1105.0,226.2 1106.8,232.5 1109.2,237.5 1111.8,242.5 1113.5,248.8 1115.5,254.5 1118.0,254.5 1120.0,247.5 1122.0,238.8 1124.2,232.5 1126.8,230.0 1130.5,230.5 1133.0,233.8 1135.0,240.0 1137.0,247.5 1139.2,250.0 1142.5,248.8 1145.5,249.2 1148.5,248.0 1151.0,242.5 1153.5,235.0 1156.0,232.5 1159.2,231.2 1162.2,226.2 1165.0,223.0 1167.5,225.0 1170.5,230.0 1174.2,233.8 1178.0,238.8 1181.0,243.8 1183.5,250.0 1186.0,255.0 1189.2,260.0 1190.0,259.3 1192.1,264.5 1194.4,268.1 1197.0,270.7 1199.2,276.0 1200.9,281.3 1202.7,282.1 1204.4,278.6 1205.8,275.6 1207.6,275.5 1209.0,279.5 1210.4,288.3 1211.8,298.9 1213.2,309.4 1214.6,320.0 1216.0,328.8 1217.5,335.8 1218.7,337.6 1219.9,332.3 1221.3,320.0 1222.7,309.4 1224.1,306.3 1225.5,309.4 1227.0,318.2 1228.4,330.5 1229.6,344.6 1230.5,354.1 1231.9,375.2 1233.1,401.6 1234.0,428.0 1234.9,459.7 1235.8,491.3 1236.8,524.8 1237.9,560.0 1239.3,611.7 1240.7,638.1 1242.1,664.5 1243.5,689.1 1244.6,703.2 1245.6,706.7 1246.7,701.4 1247.7,685.6 1248.8,659.2 1249.8,624.0 1250.9,594.1 1251.6,560.0 1253.0,516.0 1254.4,480.8 1255.8,449.1 1257.2,422.7 1258.6,398.1 1260.0,373.4 1261.3,350.6 1262.2,342.9 1263.2,325.3 1264.3,311.2 1265.3,306.8 1266.7,307.3 1267.8,316.5 1268.8,328.8 1270.1,342.9 1271.3,353.4 1271.3,352.3 1272.7,359.4 1274.1,366.4 1275.5,378.7 1276.6,394.6 1277.6,419.2 1278.7,454.4 1279.4,480.8 1280.1,507.2 1280.8,533.6 1281.5,568.8 1281.5,615.2 1282.2,659.2 1282.9,703.2 1283.6,747.2 1284.3,782.4 1285.0,801.7 1285.7,806.1 1286.4,800.0 1287.1,773.6 1287.8,738.4 1288.6,703.2 1289.3,668.0 1290.0,632.8 1291.0,601.1 1291.7,568.8 1293.1,538.9 1294.5,521.3 1295.9,512.5 1297.3,503.7 1298.8,491.3 1300.2,466.7 1301.2,438.6 1302.3,410.4 1303.3,387.5 1304.7,369.9 1306.5,361.1 1308.3,356.7 1310.0,352.7 1311.4,352.0 1312.5,359.4 1313.5,380.5 1314.6,410.4 1315.7,438.6 1316.7,466.7 1317.8,498.4 1318.5,524.8 1319.2,551.2 1319.9,577.6 1320.9,590.8 1322.0,586.4 1323.0,568.8 1324.1,542.4 1325.2,521.3 1326.2,510.7 1327.3,511.6 1328.3,524.8 1329.0,551.2 1329.7,577.6 1330.8,615.2 1331.5,650.4 1332.2,685.6 1332.9,713.7 1333.6,726.1 1334.3,717.3 1335.0,685.6 1335.7,650.4 1336.4,615.2 1337.1,551.2 1337.8,498.4 1338.5,454.4 1339.2,424.5 1340.3,410.4 1341.7,406.0 1343.1,412.2 1344.5,421.8 1345.9,415.7 1347.0,403.4 1348.4,398.1 1349.4,403.4 1350.5,419.2 1351.6,442.1 1352.6,466.7 1353.7,489.6 1354.7,502.8 1355.8,494.9 1356.8,473.7 1357.9,449.1 1358.9,435.0 1360.0,432.4 1361.1,438.6 1362.1,449.1 1363.2,456.1 1364.2,452.6 1365.3,442.1 1366.3,424.5 1367.4,405.1 1368.4,391.0 1369.5,387.5 1370.6,389.3 1371.6,401.6 1372.3,422.7 1373.0,449.1 1373.7,477.3 1374.4,503.7 1375.1,530.1 1375.8,554.7 1376.9,575.8 1378.0,586.4 1379.4,587.3 1380.4,577.6 1381.5,551.2 1382.5,516.0 1383.6,480.8 1384.6,452.6 1385.7,428.0 1386.7,410.4 1388.2,396.3 1389.6,388.4 1391.0,386.1 1392.4,389.3 1393.8,396.3 1395.2,399.8 1396.6,398.1 1398.0,389.3 1399.4,381.4 1400.8,378.7 1402.2,379.6 1403.6,387.5 1405.1,403.4 1406.5,428.0 1407.5,454.4 1408.6,480.8 1409.6,507.2 1410.7,533.6 1411.4,560.0 1412.1,586.4 1412.1,597.6 1412.8,624.0 1413.5,650.4 1414.4,682.1 1415.3,713.7 1416.1,738.4 1417.0,756.0 1418.1,773.6 1419.1,791.2 1420.2,812.3 1421.2,871.0 1422.3,934.4 1423.4,997.7 1424.4,1052.3 1425.1,1094.9 1426.2,1123.0 1427.0,1125.1 1427.9,1123.0 1429.0,1108.9 1430.0,1047.3 1431.4,996.3 1432.5,959.4 1432.9,959.0 1433.9,929.1 1435.0,904.5 1436.0,883.4 1437.1,858.7 1437.8,834.1 1437.4,808.8 1438.5,778.9 1439.5,756.0 1440.6,731.3 1441.7,710.2 1442.7,692.6 1443.8,678.6 1444.8,666.2 1445.9,653.9 1446.9,643.4 1448.3,636.3 1449.8,632.8 1451.2,629.3 1452.6,624.0 1454.0,613.4 1455.4,602.9 1456.4,599.0 1457.5,602.9 1458.2,615.2 1458.9,632.8 1459.6,653.9 1460.3,675.0 1461.0,690.9 1461.7,712.0 1462.4,738.4 1463.1,773.6 1463.8,801.7 1464.5,826.4 1464.5,865.8 1465.9,909.8 1467.3,950.2 1468.4,988.9 1469.5,1018.9 1470.5,1031.2 1471.6,1010.1 1472.6,966.1 1473.7,901.0 1474.4,827.0 1474.7,800.0 1475.4,756.0 1476.1,712.0 1476.9,668.0 1477.6,624.0 1477.2,568.8 1477.9,533.6 1478.6,498.4 1479.3,463.2 1480.0,431.5 1481.1,401.6 1482.1,382.2 1483.5,372.6 1484.9,371.7 1486.4,376.1 1487.8,377.8 1489.2,371.7 1490.6,361.1 1492.0,356.7 1493.0,357.6 1493.7,368.2 1494.5,389.3 1495.2,419.2 1495.9,454.4 1496.6,489.6 1497.3,524.8 1498.0,560.0 1499.0,615.2 1499.7,659.2 1500.4,703.2 1501.5,720.8 1502.9,726.1 1504.3,731.3 1505.4,747.2 1506.4,764.8 1507.1,784.1 1507.8,808.8 1508.2,864.0 1509.2,892.2 1510.3,904.5 1511.3,881.6 1512.4,842.9 1513.8,791.2 1514.5,729.6 1515.2,676.8 1515.9,632.8 1516.6,597.6 1517.7,560.0 1518.7,530.1 1519.8,512.5 1520.8,508.1 1521.9,514.2 1523.0,533.6 1524.0,560.0 1525.1,586.4 1525.8,597.6 1526.8,632.8 1527.9,685.6 1528.9,756.0 1529.6,808.8 1534.2,968.2 1535.3,1028.0 1536.3,1063.2 1537.2,1081.1 1538.1,1073.7 1539.2,1039.4 1540.2,963.8 1542.3,814.1 1543.4,738.4 1544.1,664.5 1544.8,597.6 1545.2,592.8 1545.8,548.6 1546.6,512.2 1547.5,485.7 1548.5,474.8 1549.3,462.8 1550.1,454.9 1550.9,452.4 1551.7,454.9 1552.3,461.8 1552.1,482.7 1553.0,514.2 1553.8,543.7 1554.4,563.3 1555.0,592.8 1554.6,601.1 1555.7,650.4 1556.4,682.1 1557.5,693.0 1558.2,671.5 1558.9,632.8 1559.6,597.6 1559.5,592.8 1559.7,569.2 1560.5,548.6 1561.3,542.7 1562.5,542.2 1563.5,548.6 1563.9,569.2 1564.5,592.8 1564.5,624.0 1565.5,668.0 1566.6,706.7 1567.7,734.9 1569.1,749.3 1570.5,734.9 1571.5,703.2 1572.6,668.0 1573.6,624.0 1574.7,588.8 1575.3,578.1 1576.1,553.5 1576.8,533.8 1577.8,520.1 1578.8,502.4 1579.6,483.7 1580.6,470.9 1581.5,466.7 1582.4,462.8 1583.4,465.7 1583.9,479.8 1584.9,490.6 1585.9,492.1 1586.9,489.6 1587.7,474.9 1588.0,462.8 1588.3,443.1 1588.6,418.5 1589.0,396.9 1589.6,377.2 1590.2,359.5 1591.0,341.8 1591.8,330.0 1591.6,328.8 1592.7,302.4 1593.7,286.5 1595.1,274.2 1596.5,263.7 1597.9,256.6 1599.3,252.2 1600.7,249.9 1602.2,249.6 1603.6,251.3 1604.6,256.6 1605.7,267.2 1606.7,284.8 1607.8,302.4 1608.5,328.8 1608.0,330.0 1608.5,349.7 1609.1,375.2 1609.7,398.8 1610.3,424.4 1610.9,448.0 1610.9,469.9 1611.5,484.7 1612.0,502.4 1612.8,514.2 1613.4,518.3 1614.0,508.3 1614.6,492.5 1615.2,476.8 1615.2,475.3 1615.8,457.8 1616.4,438.2 1617.0,423.4 1617.6,411.6 1618.3,402.8 1619.3,398.8 1620.5,396.9 1621.7,394.9 1622.9,392.0 1624.0,389.0 1625.2,387.5 1626.4,386.5 1627.6,386.3 1628.6,387.0 1629.4,391.0 1630.1,398.8 1630.9,408.7 1631.7,418.5 1632.5,428.3 1633.1,438.2 1633.7,446.0 1634.5,450.0 1635.3,448.0 1636.0,440.1 1636.8,430.3 1637.6,418.5 1638.4,406.7 1639.2,394.9 1640.0,383.1 1640.8,369.3 1641.6,354.6 1642.3,339.8 1642.9,330.0 1643.3,334.1 1644.4,311.2 1645.4,299.7 1646.5,298.0 1647.6,304.1 1648.6,320.0 1648.8,330.0 1649.2,359.5 1649.6,391.0 1650.4,418.5 1651.2,428.3 1652.0,438.2 1652.8,443.1 1653.6,438.2 1654.3,420.5 1655.1,398.8 1655.7,379.2 1656.3,367.4 1657.1,362.5 1658.1,369.3 1658.7,379.2 1659.3,392.9 1659.8,406.7 1660.6,424.4 1661.4,438.2 1662.2,452.9 1663.0,467.7 1663.2,474.8 1664.0,509.3 1664.8,543.7 1665.5,573.2 1666.3,602.7 1666.6,618.7 1667.3,680.3 1668.3,745.4 1669.6,768.3 1670.8,745.4 1671.8,678.6 1672.9,632.8 1673.0,588.9 1673.8,553.5 1674.4,526.0 1675.0,494.5 1675.6,468.9 1675.4,448.0 1676.4,428.3 1677.2,416.5 1677.9,410.6 1678.7,414.6 1679.3,424.4 1679.9,438.2 1680.7,452.9 1681.3,467.7 1681.7,477.3 1682.3,467.7 1683.3,452.9 1684.2,438.2 1685.2,413.6 1686.2,393.9 1687.2,387.0 1688.0,386.5 1688.8,392.9 1689.5,406.7 1690.3,418.5 1691.3,422.4 1692.3,418.5 1693.1,406.7 1693.9,389.0 1694.7,371.3 1695.4,355.6 1696.2,341.8 1697.0,330.0 1698.2,328.8 1699.3,302.4 1700.4,284.8 1701.4,276.0 1702.5,273.3 1703.5,276.0 1704.6,293.6 1703.9,330.0 1704.7,349.7 1705.5,385.1 1706.3,428.3 1707.1,444.1 1707.9,457.8 1708.5,475.3 1709.1,504.0 1709.8,475.3 1710.8,455.9 1711.6,418.5 1712.2,398.8 1712.8,369.3 1713.4,349.7 1714.0,330.0 1714.1,328.8 1715.1,302.4 1716.2,279.5 1717.6,261.9 1719.0,251.3 1720.4,246.1 1721.8,245.2 1722.9,247.8 1723.9,258.4 1725.0,272.5 1726.0,286.5 1727.1,304.1 1728.2,328.8 1727.5,330.0 1728.3,334.9 1729.1,373.3 1729.9,418.5 1730.7,443.1 1731.5,465.7 1732.1,475.3 1731.7,502.4 1732.5,514.2 1733.4,517.6 1734.4,504.3 1735.0,484.7 1735.4,475.3 1736.2,462.8 1737.0,454.4 1737.8,462.8 1738.4,475.3 1738.2,499.4 1738.7,548.6 1739.5,597.8 1740.5,597.6 1741.2,632.8 1741.9,641.6 1742.9,629.3 1742.9,579.1 1743.7,512.2 1744.3,489.6 1744.5,475.3 1745.0,438.2 1745.6,408.7 1746.2,371.3 1747.0,349.7 1747.6,330.0 1748.2,258.4 1749.6,249.6 1751.4,246.9 1753.5,246.1 1755.6,245.2 1757.7,242.2 1759.8,240.8 1761.2,242.5 1762.3,249.6 1763.0,267.2 1763.7,290.1 1764.4,320.0 1764.4,330.0 1764.9,349.7 1765.5,369.3 1766.1,391.0 1766.7,418.5 1767.3,438.2 1767.9,447.0 1768.6,448.0 1769.4,443.1 1770.2,428.3 1771.0,408.7 1772.0,392.9 1773.2,379.2 1774.3,362.5 1775.5,346.7 1776.7,333.0 1777.1,337.6 1778.1,328.8 1779.9,325.3 1781.3,311.2 1782.4,284.8 1783.4,263.7 1784.5,253.1 1785.9,249.2 1787.3,251.3 1788.3,261.9 1789.0,276.0 1789.8,293.6 1790.5,320.0 1791.3,334.9 1792.0,357.5 1793.0,373.3 1794.0,381.1 1794.8,383.6 1795.6,379.2 1796.4,367.4 1797.2,345.7 1797.8,337.6 1798.9,311.2 1800.0,290.1 1801.0,274.2 1802.1,266.3 1803.1,265.4 1804.2,272.5 1804.9,290.1 1805.6,311.2 1806.3,328.8 1807.3,346.4 1807.2,344.8 1808.0,358.5 1809.0,365.2 1809.9,358.5 1810.5,344.8 1811.1,333.0 1811.6,328.8 1812.3,302.4 1813.0,276.0 1814.0,258.4 1815.4,246.1 1816.9,233.7 1818.3,223.2 1819.7,215.3 1821.1,212.6 1822.1,216.1 1823.2,226.7 1824.2,240.8 1825.3,254.9 1826.4,268.9 1827.1,286.5 1827.8,307.7 1828.5,328.8 1828.6,330.0 1829.6,355.6 1830.6,388.0 1831.8,408.7 1832.8,421.5 1833.7,427.9 1834.7,426.9 1835.7,422.4 1836.7,410.6 1837.7,397.9 1838.7,383.1 1839.6,366.4 1840.6,348.7 1841.6,330.0 1842.5,328.8 1844.0,307.7 1845.7,297.1 1847.5,290.9 1848.9,289.2 1849.9,293.6 1850.6,311.2 1850.9,310.9 1852.1,347.4 1853.3,371.7 1854.5,387.5 1855.5,389.4 1856.5,383.9 1857.2,371.7 1857.9,347.4 1858.6,323.0 1859.4,308.4 1860.3,302.3 1861.8,299.3 1863.3,296.9 1864.7,294.4 1866.2,292.6 1867.6,291.6"/>
<polyline class="cv" stroke="#0000ff" points="292.5,452.0 296.2,442.5 300.0,433.8 303.8,426.2 307.0,422.5 310.0,420.5 313.0,415.0 315.5,412.0 318.8,412.0 322.0,410.0 324.0,410.5 325.8,420.0 327.5,432.5 329.2,438.0 330.8,436.2 332.5,422.5 334.2,408.8 335.8,404.5 337.5,408.8 339.2,413.8 340.8,415.0 342.5,410.0 344.2,397.5 345.8,388.8 347.5,385.0 351.2,383.8 353.8,377.5 356.2,371.2 358.8,372.0 362.0,372.0 364.5,368.8 367.0,373.0 369.5,378.2 371.5,376.2 374.0,367.5 376.5,363.2 379.0,366.2 381.5,370.0 384.0,368.8 386.0,364.5 388.0,363.8 390.0,367.0 392.5,372.5 395.0,377.5 398.0,381.2 401.2,382.0 405.0,382.0 407.5,387.5 410.5,393.8 413.8,394.5 416.2,394.2 419.5,397.0 422.5,401.2 426.2,408.0 430.0,412.5 433.8,416.2 437.5,423.8 441.2,428.0 445.0,431.2 450.0,438.8 455.0,444.5 460.0,447.5 463.8,451.2 467.5,456.2 471.2,460.0 475.0,462.5 478.8,468.0 482.5,472.5 486.2,476.2 491.2,478.8 496.2,483.8 501.2,488.8 505.5,491.2 510.0,491.8 515.0,492.5 518.8,495.0 522.5,495.5 526.2,499.5 530.0,503.0 533.8,503.0 537.5,501.2 541.2,500.0 545.0,498.8 548.8,497.0 552.5,495.0 555.0,494.5 558.8,496.0 562.5,496.0 566.2,495.0 571.2,495.5 573.8,498.0 576.2,500.5 578.8,499.5 581.2,497.0 583.8,498.8 586.2,500.0 588.8,498.0 591.2,496.0 593.8,497.0 597.5,498.0 600.5,498.8 603.8,503.8 607.0,508.8 610.0,513.2 612.5,514.0 615.0,512.5 617.5,507.0 620.5,502.5 623.8,501.0 626.2,500.5 629.5,496.2 633.0,490.0 636.2,483.8 639.5,478.8 642.5,476.2 646.2,475.0 650.0,473.0 653.8,471.2 657.5,470.8 661.2,470.5 663.8,469.2 666.2,468.8 668.8,471.2 672.0,475.0 676.2,479.2 680.0,483.2 683.8,488.8 687.5,493.8 691.2,498.0 694.5,502.0 697.0,503.0 699.5,499.5 702.5,493.8 705.5,489.5 708.8,486.2 712.5,482.5 716.2,481.8 718.8,482.5 721.2,488.8 723.8,495.5 726.2,498.0 728.2,497.0 730.5,488.8 733.0,477.5 736.2,465.0 740.0,453.8 743.8,447.5 747.5,443.0 751.2,438.8 755.0,435.0 758.8,432.0 762.5,431.2 772.8,431.2 778.0,427.5 783.0,423.8 788.0,420.5 793.0,418.0 798.0,415.8 803.0,414.5 810.5,413.8 816.8,414.2 823.0,412.5 829.2,411.8 835.5,411.8 841.8,412.0 845.5,413.2 850.5,413.5 858.0,413.5 860.0,417.5 862.0,423.8 862.0,425.0 864.0,430.5 866.0,433.0 868.0,432.5 870.5,429.2 873.0,425.0 876.8,419.2 880.5,413.8 884.2,408.2 888.0,404.5 891.8,402.0 895.0,401.8 898.0,404.5 901.0,408.2 904.2,410.5 907.2,409.2 910.5,406.2 914.2,402.5 918.0,400.0 921.8,399.5 925.0,400.8 928.0,403.8 931.0,406.2 934.2,407.5 937.5,405.8 940.5,401.2 944.2,395.0 948.0,389.5 951.8,385.5 955.5,383.2 960.5,382.5 965.5,381.8 970.5,380.0 975.5,379.5 980.5,379.2 985.5,378.8 990.5,377.5 995.5,377.0 1000.5,376.8 1005.5,375.0 1009.2,374.5 1013.0,375.5 1016.8,374.2 1021.8,373.5 1026.8,373.0 1031.8,372.5 1036.8,372.2 1041.8,371.5 1045.0,372.5 1048.0,373.8 1051.0,372.0 1054.2,371.5 1056.8,373.0 1059.2,375.0 1061.8,372.5 1064.2,370.0 1066.8,368.8 1069.2,370.5 1071.8,371.8 1074.2,369.5 1076.8,368.0 1079.2,371.2 1081.8,375.5 1084.2,375.5 1086.8,371.2 1089.2,368.0 1092.5,368.0 1095.5,369.5 1098.5,369.2 1101.8,367.5 1104.2,368.0 1106.8,370.8 1109.2,370.0 1111.2,365.0 1113.0,363.0 1115.0,365.5 1117.0,369.5 1119.5,370.8 1122.5,368.8 1125.5,368.0 1128.5,369.5 1131.8,371.2 1135.5,371.8 1139.2,371.2 1143.0,370.0 1146.8,370.0 1150.5,368.8 1153.0,368.0 1155.5,370.0 1158.0,372.0 1160.5,371.8 1163.0,370.0 1165.5,370.0 1168.0,372.5 1170.5,374.5 1174.2,375.5 1178.0,376.2 1181.8,378.8 1184.2,382.5 1186.8,387.5 1190.0,393.8 1193.0,399.5 1196.0,402.0 1199.2,403.8 1202.5,406.2 1205.5,408.8 1208.0,412.0 1210.0,417.5 1211.8,423.8 1212.0,426.2 1213.8,436.8 1215.5,447.3 1216.9,454.4 1218.2,456.1 1219.4,454.4 1220.6,447.3 1222.0,438.6 1223.4,431.5 1224.8,427.1 1226.6,425.4 1228.4,425.0 1230.1,426.2 1231.9,429.8 1233.3,435.0 1234.7,440.3 1236.1,443.0 1237.5,442.1 1238.9,437.7 1240.3,432.4 1241.7,430.1 1243.1,430.1 1244.6,433.3 1246.0,440.3 1247.4,445.6 1249.5,446.5 1251.6,446.8 1253.0,448.2 1254.4,451.7 1255.8,452.6 1257.2,450.0 1258.6,442.1 1260.0,428.0 1261.4,410.4 1262.9,394.6 1264.3,386.1 1265.7,384.3 1267.1,386.6 1268.5,396.3 1269.9,406.9 1271.3,410.9 1273.1,410.4 1274.8,409.9 1276.2,412.2 1277.6,421.0 1279.0,433.3 1280.5,445.6 1281.9,454.4 1283.3,461.4 1284.7,465.3 1286.1,466.4 1287.5,464.1 1288.9,457.9 1290.3,450.9 1291.7,443.8 1293.1,438.6 1294.5,435.9 1296.3,434.7 1298.1,435.0 1299.8,436.8 1301.6,441.2 1303.3,447.3 1305.1,452.6 1306.5,454.4 1307.9,452.6 1309.1,445.6 1310.4,435.0 1311.6,428.9 1312.8,427.6 1313.9,431.5 1314.9,442.1 1316.0,454.4 1317.1,466.7 1318.1,475.5 1319.5,479.9 1321.3,481.7 1323.0,482.5 1324.8,483.4 1326.6,485.2 1328.0,489.6 1329.4,496.6 1330.8,503.7 1332.2,509.3 1333.6,511.1 1335.0,508.9 1336.2,498.4 1337.5,482.5 1338.7,466.7 1339.9,456.1 1341.3,451.7 1342.8,452.6 1344.2,456.1 1345.6,460.5 1347.3,464.1 1349.1,466.4 1350.8,467.6 1352.6,468.1 1354.4,465.8 1356.1,462.3 1357.9,458.8 1359.6,456.1 1361.8,454.4 1363.9,452.6 1366.0,450.0 1367.7,446.5 1369.5,443.5 1371.3,442.6 1373.0,443.8 1374.8,447.3 1376.5,450.5 1378.3,451.7 1380.4,450.9 1382.5,450.0 1384.3,450.5 1386.0,452.6 1387.8,456.1 1389.6,460.0 1391.3,462.3 1392.7,461.4 1394.1,456.1 1395.4,445.6 1396.6,428.0 1397.8,408.6 1399.1,392.8 1400.3,384.3 1401.5,382.8 1402.8,385.4 1404.0,391.0 1405.4,395.4 1407.2,397.7 1408.9,399.8 1411.0,402.5 1413.1,404.8 1415.3,406.5 1417.0,408.6 1418.3,415.7 1419.5,428.0 1420.5,443.8 1421.6,463.2 1422.7,484.3 1423.7,505.4 1424.8,526.5 1425.8,544.1 1426.9,555.6 1427.9,559.1 1429.0,555.6 1430.2,544.1 1431.4,528.3 1432.9,510.7 1434.3,494.9 1435.7,479.0 1437.1,463.2 1438.5,449.1 1439.9,436.8 1441.3,426.2 1442.7,419.2 1444.5,414.8 1446.2,411.3 1448.0,406.9 1449.8,402.5 1451.5,399.5 1453.3,398.6 1455.0,399.8 1456.4,404.2 1457.8,412.2 1459.3,422.7 1460.7,435.0 1462.1,447.3 1463.5,461.4 1464.9,475.5 1466.3,489.6 1467.7,501.0 1468.9,507.2 1470.2,508.1 1471.2,503.7 1472.5,493.1 1473.7,479.0 1474.9,463.2 1476.1,449.1 1477.4,438.6 1478.6,432.4 1480.0,429.4 1481.8,428.9 1483.5,430.6 1485.3,434.2 1487.1,436.4 1488.8,437.1 1490.6,435.9 1492.0,432.4 1493.4,429.8 1494.8,429.8 1496.2,433.3 1497.6,442.1 1499.0,454.4 1500.4,464.9 1501.8,471.1 1503.6,474.6 1505.4,478.1 1507.1,482.5 1508.5,487.5 1509.9,489.2 1511.3,486.1 1512.8,477.3 1514.2,463.2 1515.6,447.3 1517.0,431.5 1518.4,417.4 1519.8,407.8 1521.2,404.8 1522.6,405.1 1524.0,409.5 1525.4,419.2 1526.8,431.5 1528.2,445.6 1529.6,461.4 1530.0,453.5 1531.1,466.7 1532.1,479.0 1533.2,489.6 1534.2,498.4 1535.3,503.3 1536.3,504.0 1537.4,500.1 1538.4,489.6 1539.5,473.7 1540.6,454.4 1541.6,435.0 1542.7,417.4 1543.7,401.6 1544.8,389.3 1545.8,378.7 1546.9,371.7 1548.3,367.3 1549.7,366.0 1551.1,368.2 1552.2,375.2 1553.2,385.8 1554.3,398.1 1555.3,408.6 1556.4,417.4 1557.5,421.0 1558.5,420.6 1559.6,413.9 1560.6,403.4 1561.7,392.8 1562.7,386.6 1564.1,384.9 1565.5,386.6 1567.3,389.3 1569.1,390.2 1570.8,387.5 1572.2,383.1 1573.6,377.0 1575.1,371.7 1576.5,368.2 1578.2,364.6 1580.0,362.0 1581.7,360.2 1583.9,360.6 1586.0,360.8 1587.7,358.5 1589.1,354.1 1589.8,349.9 1591.6,339.3 1593.4,332.3 1595.1,327.0 1597.2,322.6 1599.3,320.3 1601.4,319.6 1603.6,320.0 1605.7,322.1 1607.4,326.1 1608.8,332.3 1610.2,341.1 1611.7,348.1 1613.1,352.5 1614.8,353.8 1616.6,351.7 1618.3,348.1 1620.5,345.5 1622.6,342.9 1624.7,340.2 1626.8,338.8 1628.9,339.0 1630.7,341.1 1632.1,345.5 1633.5,351.7 1634.9,357.8 1636.6,362.0 1638.8,362.9 1640.9,362.0 1643.0,360.2 1645.4,360.2 1647.9,360.8 1650.4,360.2 1652.1,359.0 1653.9,359.0 1655.3,362.0 1656.7,368.2 1658.1,375.2 1659.9,380.5 1661.6,384.0 1663.4,388.4 1664.8,394.6 1666.2,401.6 1667.6,407.8 1669.0,412.2 1670.4,413.0 1671.8,411.3 1673.3,405.1 1674.7,394.6 1676.1,382.2 1677.1,371.7 1678.2,366.4 1679.6,364.6 1681.0,366.4 1682.4,369.9 1683.8,372.6 1685.2,372.6 1686.6,369.9 1688.0,364.6 1689.4,357.6 1691.2,351.7 1692.6,344.6 1694.4,335.8 1696.1,329.7 1698.2,326.1 1700.4,324.4 1702.5,325.3 1704.2,330.5 1705.6,337.6 1707.0,343.7 1708.4,348.1 1710.2,349.0 1712.0,346.4 1713.7,341.1 1715.5,334.9 1717.2,328.8 1719.0,322.6 1720.8,316.5 1722.5,312.1 1724.6,309.4 1726.7,308.5 1728.9,309.1 1731.0,311.2 1732.7,314.7 1734.5,320.0 1735.9,327.0 1737.3,335.8 1738.7,346.4 1740.1,355.2 1740.8,364.6 1741.9,366.4 1742.9,361.1 1744.0,346.4 1745.1,332.3 1746.1,320.0 1747.5,312.1 1749.3,308.5 1751.4,305.9 1753.5,304.1 1755.6,302.4 1757.7,301.1 1759.8,300.6 1761.9,301.0 1763.7,302.4 1765.1,306.8 1766.5,312.9 1767.9,319.1 1769.3,323.5 1770.7,326.1 1772.2,327.0 1773.6,325.3 1775.0,320.0 1776.4,311.2 1777.8,302.4 1779.2,297.1 1781.0,292.7 1782.7,289.2 1784.5,285.7 1786.2,283.0 1788.0,283.0 1789.8,285.7 1791.2,290.1 1792.6,297.1 1794.0,305.9 1795.4,312.9 1796.8,315.1 1798.6,313.8 1800.3,309.4 1802.1,303.3 1803.8,298.0 1805.6,293.6 1807.3,290.1 1809.1,284.8 1810.5,280.4 1811.9,279.5 1813.3,281.3 1815.1,285.7 1817.2,288.3 1819.3,290.1 1821.4,291.8 1823.2,294.5 1824.9,298.9 1826.4,305.0 1827.8,311.2 1829.2,318.2 1830.6,323.5 1832.0,325.3 1833.4,324.4 1834.8,318.2 1836.2,309.4 1837.6,302.4 1839.0,299.7 1840.8,299.7 1842.5,302.4 1844.0,307.7 1845.4,314.7 1846.8,320.0 1848.5,322.6 1850.3,325.3 1852.0,332.3 1853.8,341.1 1853.0,344.9 1854.0,346.8 1855.0,344.9 1856.0,340.1 1856.9,334.0 1857.9,327.9 1858.9,323.6 1859.9,322.8 1860.8,323.0 1861.6,326.7 1862.3,332.8 1863.0,337.6 1864.0,341.3 1865.5,343.1 1866.9,343.7"/>
<polyline class="cv" stroke="#00ffff" points="292.5,173.0 296.2,158.8 301.2,145.0 305.5,136.2 310.0,135.8 313.0,124.5 315.0,120.0 319.5,125.5 322.0,118.8 324.5,118.8 326.2,132.5 328.2,153.8 330.0,160.0 331.8,145.0 333.8,120.0 335.5,113.2 337.5,120.0 339.5,132.5 341.0,134.2 343.0,122.5 345.5,100.0 347.5,93.8 350.8,98.8 353.0,92.5 355.5,80.0 357.5,77.0 361.2,82.0 364.5,78.0 367.0,85.0 369.5,93.8 371.2,91.2 373.8,80.0 376.5,75.0 379.2,80.0 382.0,86.8 384.0,85.0 386.2,79.5 388.2,79.5 390.5,85.0 393.0,95.0 395.0,100.5 400.0,106.2 404.5,108.8 407.0,113.8 409.5,122.5 411.8,128.2 417.5,128.0 420.0,131.2 423.8,142.5 427.5,150.0 432.5,157.5 437.0,169.5 442.5,176.2 447.5,185.0 451.2,190.0 455.0,198.2 459.2,199.2 462.5,205.0 467.5,215.0 475.0,226.2 482.5,240.0 485.0,243.8 490.0,247.5 497.5,255.0 503.8,265.0 510.0,268.0 517.5,271.2 523.8,275.0 527.5,278.8 531.2,282.5 534.5,282.0 537.5,279.5 542.5,281.8 548.8,277.0 555.5,276.2 559.5,281.2 565.0,280.5 570.0,284.5 572.5,288.0 575.5,295.0 580.0,295.5 586.2,299.5 591.2,297.5 597.5,305.0 601.2,310.0 606.2,325.0 610.0,336.2 612.5,340.5 615.0,338.8 618.8,328.8 622.5,320.0 627.5,315.0 632.5,301.2 637.5,287.5 642.5,276.2 646.2,273.0 651.2,271.2 656.2,266.2 660.0,265.0 665.0,265.5 668.8,268.8 672.5,275.0 676.2,278.8 680.0,281.2 683.8,290.0 687.5,301.2 692.5,307.5 696.2,312.5 700.0,313.8 705.0,301.2 710.0,290.0 715.0,281.2 717.5,279.5 720.0,282.5 723.8,296.2 726.2,303.8 728.8,302.5 731.2,290.0 735.0,267.5 740.0,246.2 745.0,233.8 750.0,223.8 755.0,215.0 760.0,208.8 765.0,206.0 772.8,205.5 778.0,205.0 783.0,202.5 788.0,197.5 793.0,192.5 798.0,188.8 801.8,186.8 805.5,185.5 810.5,183.8 815.5,183.8 819.2,184.2 823.0,182.5 828.0,180.5 833.0,180.0 838.0,180.0 843.0,180.8 846.8,182.5 850.5,184.2 854.2,184.2 858.0,183.2 860.5,186.2 863.0,192.5 866.0,200.0 869.2,206.2 871.8,208.0 875.0,208.0 878.0,205.0 881.0,198.8 884.2,190.0 888.0,181.2 891.8,175.5 895.0,173.0 897.5,175.0 900.5,180.0 903.0,183.8 905.5,185.0 908.0,183.0 911.8,177.5 915.5,172.5 919.2,170.0 922.5,169.5 926.0,171.2 929.2,174.5 933.0,176.8 935.5,175.5 939.2,168.8 943.0,161.2 946.8,154.5 950.5,148.8 954.2,145.8 959.2,145.0 965.5,144.5 970.5,142.0 974.2,141.2 978.0,142.5 983.0,140.8 988.0,140.5 993.0,140.0 998.0,139.0 1003.0,138.0 1006.8,135.5 1010.5,137.5 1015.5,138.0 1020.5,137.0 1024.2,137.5 1027.5,135.0 1030.5,133.8 1034.2,136.2 1038.0,137.0 1041.8,135.8 1045.0,137.0 1048.0,138.8 1051.0,135.0 1053.5,133.0 1056.2,136.2 1059.2,138.8 1061.8,136.2 1064.2,133.8 1067.5,135.0 1070.5,138.8 1073.0,136.2 1075.5,132.5 1077.5,131.2 1080.0,135.0 1083.0,141.2 1085.5,137.5 1088.5,133.0 1091.8,133.8 1095.5,136.8 1098.5,135.0 1101.8,132.0 1104.2,132.5 1106.8,137.5 1109.2,136.2 1111.0,128.8 1113.0,126.2 1115.0,130.0 1116.8,137.5 1119.2,141.2 1121.8,139.5 1125.0,135.5 1128.0,136.2 1131.8,140.0 1135.5,142.5 1138.5,143.8 1143.0,142.0 1146.8,142.5 1150.5,140.5 1153.5,138.8 1156.8,141.2 1159.2,142.5 1162.5,139.5 1165.0,138.8 1167.5,141.2 1170.5,145.0 1174.2,146.8 1178.0,147.0 1181.0,148.8 1183.5,153.0 1186.0,160.0 1189.2,168.8 1192.5,177.0 1195.5,180.5 1198.0,182.0 1200.5,186.2 1203.0,189.5 1206.8,189.5 1209.2,195.0 1211.8,207.5 1214.2,225.0 1216.2,240.0 1218.0,246.2 1220.0,240.0 1221.8,222.5 1223.5,210.0 1226.0,207.0 1228.5,208.8 1231.0,215.0 1233.5,225.0 1235.5,233.8 1237.2,236.2 1239.0,225.0 1240.5,210.0 1242.2,204.5 1243.8,210.0 1245.5,225.0 1247.0,236.2 1248.5,238.0 1250.5,233.8 1253.0,236.2 1255.8,241.2 1256.0,240.8 1257.8,230.2 1259.5,216.1 1260.9,202.1 1262.2,188.0 1263.6,170.4 1264.8,158.1 1265.8,153.7 1267.1,159.8 1268.3,173.9 1269.5,186.2 1270.6,191.5 1271.8,192.4 1273.6,189.8 1275.0,191.5 1276.2,202.1 1277.6,219.7 1279.0,239.0 1280.5,254.9 1281.9,270.7 1283.3,284.8 1284.7,293.6 1286.1,293.6 1287.5,284.8 1288.9,270.7 1290.3,256.6 1291.7,246.1 1293.1,241.7 1294.5,240.8 1296.5,242.9 1298.8,244.7 1301.2,245.2 1303.0,247.8 1304.7,253.1 1306.1,261.0 1307.6,263.7 1309.0,258.4 1310.4,246.1 1311.4,233.7 1312.5,228.5 1313.5,235.5 1314.6,246.1 1315.7,258.4 1316.7,272.5 1317.6,284.8 1318.5,295.3 1319.9,300.6 1321.3,299.7 1322.9,295.3 1324.6,297.1 1326.4,302.4 1328.1,311.2 1329.9,323.5 1331.3,337.6 1332.5,349.9 1334.0,357.3 1335.2,353.4 1336.4,337.6 1337.5,311.2 1338.5,284.8 1339.6,267.2 1341.0,260.1 1342.4,259.3 1343.8,264.5 1345.2,268.9 1347.5,271.6 1349.8,273.3 1351.6,277.7 1353.3,283.0 1355.1,287.4 1357.2,290.1 1359.3,290.1 1361.6,288.7 1363.9,286.5 1365.6,281.3 1367.0,272.5 1368.4,263.7 1369.9,257.5 1371.6,255.7 1373.0,258.4 1374.4,265.4 1375.8,274.2 1377.2,282.1 1378.7,285.7 1380.9,288.0 1383.2,290.1 1385.3,293.6 1387.1,300.6 1388.9,309.4 1390.6,318.2 1392.0,324.4 1393.3,325.3 1394.5,320.0 1395.5,307.7 1396.6,290.1 1397.7,268.9 1398.7,247.8 1399.8,235.5 1400.8,231.6 1402.2,233.7 1403.6,239.0 1405.1,240.8 1406.8,239.9 1408.6,240.8 1410.3,244.3 1412.1,249.2 1414.4,251.3 1416.7,253.1 1418.1,260.1 1419.1,272.5 1419.8,286.5 1420.5,304.1 1421.1,328.8 1421.6,357.6 1422.5,385.8 1423.4,410.4 1424.4,433.3 1425.8,454.4 1427.0,466.7 1428.1,468.8 1429.3,464.9 1430.6,452.6 1431.8,435.0 1432.9,415.7 1433.9,396.3 1435.0,375.2 1436.0,355.8 1436.4,346.4 1437.6,327.0 1438.8,307.7 1440.1,291.8 1441.7,277.7 1443.4,267.2 1445.5,261.9 1447.8,257.5 1450.1,253.1 1452.2,252.2 1454.0,254.9 1455.7,261.9 1457.1,272.5 1458.6,286.5 1460.0,302.4 1461.4,318.2 1462.8,334.1 1464.2,348.1 1463.7,350.6 1464.9,364.6 1466.3,380.5 1467.7,396.3 1468.9,407.8 1470.2,411.8 1471.2,408.6 1472.5,396.3 1473.7,378.7 1474.7,357.6 1474.7,342.9 1476.0,321.7 1477.2,302.4 1478.6,286.5 1480.4,274.2 1482.1,268.9 1484.2,268.6 1486.0,271.6 1487.8,275.1 1489.5,276.0 1491.3,273.3 1493.0,271.6 1494.5,274.2 1495.9,284.8 1497.3,298.9 1498.7,314.7 1500.1,332.3 1501.5,349.9 1501.1,350.6 1502.9,361.1 1505.0,368.2 1506.8,375.2 1508.2,385.8 1509.4,396.3 1510.5,400.2 1511.5,396.3 1512.8,384.0 1514.2,366.4 1515.6,348.8 1516.4,342.9 1517.7,321.7 1519.1,302.4 1520.5,295.3 1521.9,294.5 1523.3,298.9 1524.7,309.4 1526.1,323.5 1527.5,337.6 1528.9,349.9 1530.0,366.4 1531.1,385.8 1532.1,405.1 1533.2,422.7 1534.2,436.8 1535.3,446.5 1536.7,450.5 1538.1,445.6 1539.2,433.3 1540.2,415.7 1541.3,396.3 1542.3,375.2 1543.4,354.1 1544.8,328.8 1545.8,302.4 1546.9,284.8 1548.0,272.5 1549.0,263.7 1550.1,259.8 1551.1,259.3 1552.2,262.8 1553.2,274.2 1554.3,290.1 1555.3,311.2 1556.4,332.3 1557.5,346.4 1558.5,350.8 1559.6,342.9 1560.6,327.0 1561.7,309.4 1562.7,297.1 1563.8,292.7 1564.8,292.7 1566.3,297.1 1567.7,302.4 1569.1,306.3 1570.5,307.3 1571.9,302.4 1573.3,293.6 1574.7,284.8 1576.1,277.7 1577.9,271.6 1579.6,266.3 1581.4,261.9 1583.1,260.5 1584.6,263.7 1586.0,268.9 1587.4,269.3 1588.8,261.9 1590.2,251.3 1591.6,239.0 1593.0,228.5 1594.4,219.7 1596.2,212.6 1597.9,207.3 1599.7,203.5 1601.4,201.2 1603.2,200.7 1605.0,202.4 1606.4,205.6 1607.8,210.9 1609.2,217.9 1610.6,226.7 1612.0,237.3 1613.4,243.4 1614.8,243.4 1616.2,239.0 1617.6,232.9 1619.0,229.9 1620.8,230.2 1622.6,231.6 1624.7,232.3 1626.8,232.0 1628.6,232.3 1630.3,234.6 1632.1,239.0 1633.8,245.2 1635.6,250.5 1637.3,254.0 1639.5,255.7 1641.6,256.3 1643.7,255.7 1645.8,255.7 1647.6,257.5 1649.3,260.5 1651.1,263.7 1652.8,267.2 1654.6,271.1 1656.0,276.0 1657.4,281.3 1658.8,286.5 1660.2,291.8 1661.6,297.1 1663.0,304.1 1664.5,312.9 1665.5,323.5 1666.6,335.8 1667.6,348.1 1668.0,350.6 1669.0,361.1 1670.1,368.2 1671.1,370.3 1672.2,368.2 1673.3,361.1 1674.3,350.6 1675.0,342.9 1676.1,325.3 1677.1,309.4 1678.2,297.1 1679.6,292.7 1681.3,291.8 1683.1,290.9 1684.5,289.2 1685.9,283.0 1687.3,276.0 1688.7,268.9 1690.1,263.7 1691.6,258.4 1693.0,253.1 1694.4,248.7 1695.8,246.1 1697.2,244.7 1698.6,244.7 1700.0,246.1 1701.4,250.5 1702.8,256.6 1704.2,263.7 1705.6,271.6 1707.0,279.5 1708.4,286.5 1709.9,291.8 1711.3,293.2 1712.7,290.9 1714.1,285.7 1715.5,277.7 1716.9,268.9 1718.3,260.1 1719.7,251.3 1721.1,245.2 1722.5,240.8 1724.3,239.0 1726.4,239.6 1728.5,240.3 1730.3,239.0 1732.0,238.1 1733.8,240.8 1735.2,249.6 1736.6,263.7 1738.0,281.3 1739.1,300.6 1740.1,316.5 1741.2,327.0 1742.2,328.8 1743.3,321.7 1744.3,305.9 1745.4,286.5 1746.5,267.2 1747.5,253.1 1748.9,246.1 1750.7,244.8 1752.8,245.5 1754.9,244.7 1756.7,242.5 1758.4,239.9 1760.2,238.1 1761.9,239.9 1763.4,245.2 1764.8,253.1 1766.2,261.9 1767.6,268.9 1769.0,276.0 1770.4,281.3 1771.8,284.8 1773.2,285.7 1774.6,283.9 1776.0,279.5 1777.4,272.5 1778.8,265.4 1780.2,259.3 1781.7,253.1 1783.1,249.2 1784.8,246.9 1786.6,246.9 1788.3,249.6 1789.8,256.6 1791.2,265.4 1792.6,274.2 1794.0,283.0 1795.4,288.0 1796.8,286.5 1798.2,279.5 1799.6,269.8 1801.0,262.8 1802.4,259.8 1804.2,260.1 1805.9,262.8 1807.7,265.1 1809.5,264.0 1811.2,261.9 1812.6,261.0 1814.4,263.7 1816.1,268.1 1818.3,271.6 1820.4,275.1 1822.5,277.7 1824.6,279.5 1826.4,282.1 1827.8,288.3 1828.8,298.9 1829.9,311.2 1830.9,321.7 1832.3,325.3 1833.7,323.5 1835.2,314.7 1836.6,302.4 1838.0,290.1 1839.4,282.1 1840.8,279.5 1842.2,283.9 1843.3,293.6 1844.3,307.7 1845.4,321.7 1846.4,335.8 1847.5,342.9 1848.9,345.0 1850.6,344.6 1852.0,339.3 1852.3,342.5 1853.3,351.0 1854.3,359.5 1855.2,365.6 1856.0,363.2 1856.7,358.3 1857.7,352.2 1858.9,348.3 1860.3,348.0 1861.8,352.2 1863.0,357.1 1863.8,358.1 1864.7,354.7 1865.7,347.4 1866.7,341.3 1867.6,339.8"/>
<polyline class="cv" stroke="#ff00ff" points="292.5,342.0 297.5,328.8 302.5,317.5 306.2,310.0 310.0,303.8 313.8,296.2 316.2,292.0 320.0,290.0 323.2,287.5 325.0,290.0 327.0,301.2 328.8,308.0 330.2,308.8 332.0,297.5 334.0,280.0 335.8,274.5 338.0,279.5 340.0,282.5 341.5,281.2 343.5,270.0 345.5,255.0 347.5,251.2 351.2,250.5 353.8,243.8 356.2,235.0 358.8,233.8 362.5,232.5 365.0,230.5 367.5,233.8 369.5,236.2 372.0,230.0 374.5,223.8 377.0,222.0 379.5,223.8 382.0,225.0 384.5,221.2 386.2,217.0 388.2,215.8 390.0,217.5 392.5,223.8 395.5,228.8 400.0,229.2 404.5,230.0 408.0,233.0 411.2,237.5 414.5,238.0 418.0,236.2 420.5,238.8 423.8,243.8 427.5,246.2 431.2,247.5 436.2,253.8 441.2,258.2 445.0,261.2 450.0,262.5 454.5,265.5 460.0,263.8 465.0,266.8 470.0,267.0 475.0,268.8 480.0,273.8 483.8,277.5 488.8,277.0 492.5,279.5 497.5,281.2 502.5,288.0 506.2,290.0 510.0,290.5 513.8,292.5 517.0,296.2 518.8,301.2 520.5,308.8 522.5,315.5 524.2,317.5 527.0,313.8 530.0,310.0 533.8,309.2 537.5,307.0 540.0,308.8 543.0,311.8 547.5,312.0 551.2,313.8 553.8,317.5 555.8,325.0 557.5,337.5 559.5,355.0 561.2,375.0 563.0,395.0 564.5,412.5 565.8,425.0 567.0,436.5 568.2,427.5 570.5,410.0 572.5,385.0 574.5,365.0 577.0,355.0 580.0,350.5 585.0,349.5 590.0,348.8 592.5,351.2 596.2,362.5 600.0,371.2 602.0,378.8 603.8,395.0 606.2,410.0 608.8,417.5 610.5,419.2 613.0,416.2 616.2,407.5 620.0,396.2 623.8,390.0 628.8,383.8 632.5,375.0 636.2,363.8 640.0,355.0 643.8,349.5 648.8,347.5 653.8,343.8 657.5,343.0 662.5,344.2 666.2,347.5 670.0,352.0 673.8,355.0 677.5,358.8 680.5,365.0 683.8,375.5 687.5,385.0 691.2,389.5 694.5,395.0 697.0,397.0 699.5,392.5 702.5,382.5 706.2,372.5 710.0,365.5 713.2,363.0 716.2,365.0 719.2,372.5 722.0,387.5 724.5,397.5 726.5,400.5 728.8,395.0 731.2,380.0 734.5,355.0 737.5,337.5 741.2,323.8 745.0,315.0 750.0,305.0 755.0,296.2 760.0,292.5 765.0,293.0 772.8,292.5 778.0,289.5 783.0,287.0 786.8,283.8 790.5,280.0 794.2,278.8 798.0,276.8 801.8,274.5 805.5,272.5 809.2,270.8 813.0,271.2 816.8,271.2 820.5,270.5 824.2,268.0 829.2,266.2 834.2,265.8 839.2,266.2 843.0,267.5 846.8,269.2 849.2,270.0 852.5,267.5 855.5,266.8 858.0,268.8 860.0,275.0 862.0,283.8 864.0,292.5 866.0,297.0 868.0,297.5 870.5,294.2 873.5,290.0 876.8,282.5 880.5,275.0 884.2,269.5 888.0,262.0 891.0,256.2 894.2,253.0 897.2,253.2 900.0,256.2 902.5,258.2 905.0,253.8 908.0,247.0 911.0,241.2 914.2,238.0 918.0,236.2 921.8,236.2 925.0,238.0 928.0,242.0 931.0,247.0 934.2,250.5 937.5,250.5 940.5,247.5 944.2,241.2 948.0,234.5 951.8,228.8 955.5,223.8 959.2,220.5 963.0,217.5 966.0,214.2 968.5,209.5 970.5,203.8 972.2,200.8 973.5,205.0 974.5,220.0 975.5,240.0 976.2,265.0 977.0,290.0 977.8,320.0 978.5,350.0 979.2,380.0 980.2,400.0 981.2,406.8 982.2,400.0 983.2,380.0 984.2,350.0 985.2,325.0 986.2,307.5 987.5,301.2 989.2,302.0 991.0,306.2 993.0,309.5 995.0,307.5 996.8,300.0 998.8,291.2 1001.0,282.5 1003.0,278.8 1005.5,276.2 1008.0,272.5 1010.0,266.2 1012.0,257.5 1014.2,248.8 1016.8,244.5 1020.5,242.5 1024.2,241.2 1028.0,240.0 1031.8,237.5 1035.5,233.8 1038.0,230.0 1041.0,227.0 1044.2,226.2 1048.0,226.2 1051.0,223.8 1054.2,222.0 1057.5,223.8 1060.5,222.5 1063.5,219.2 1066.8,217.0 1070.5,217.5 1073.5,215.0 1076.2,212.5 1078.8,213.2 1081.0,217.0 1083.0,218.8 1085.5,216.2 1088.0,213.8 1090.0,216.2 1092.0,222.5 1094.0,226.2 1096.0,227.0 1098.0,222.5 1100.0,216.2 1102.5,211.2 1105.5,211.2 1108.5,211.8 1110.5,208.8 1112.5,205.0 1114.5,205.5 1116.5,209.5 1118.5,211.8 1121.8,210.8 1125.5,209.5 1129.2,210.0 1133.0,211.2 1136.8,211.8 1140.5,211.2 1144.2,209.5 1148.0,208.8 1151.8,207.0 1154.8,207.5 1157.2,212.5 1159.8,217.5 1162.0,218.8 1165.0,215.5 1168.0,212.5 1171.8,210.8 1175.5,209.2 1179.2,209.2 1182.2,210.8 1184.2,217.5 1186.2,227.5 1188.5,236.2 1191.0,239.2 1194.2,238.0 1197.2,235.8 1200.0,235.0 1202.5,236.8 1205.0,233.0 1207.5,231.2 1209.5,235.0 1211.5,245.0 1213.5,255.0 1215.5,261.2 1217.5,263.0 1219.5,257.5 1221.5,246.2 1223.5,233.8 1225.5,227.0 1228.0,228.8 1230.5,233.8 1233.0,240.0 1235.0,244.5 1237.0,245.0 1238.8,237.5 1240.5,222.5 1242.2,211.2 1243.5,210.0 1245.0,216.2 1246.8,226.2 1249.2,231.2 1251.8,235.0 1254.2,240.0 1255.8,242.0 1256.9,235.5 1258.6,219.7 1260.4,202.1 1262.2,177.4 1263.9,156.3 1265.3,149.3 1266.7,148.9 1268.1,158.1 1269.5,168.6 1271.0,173.9 1272.7,174.8 1274.8,173.9 1276.2,178.3 1277.6,189.8 1278.9,203.8 1280.3,219.7 1281.5,233.7 1282.9,247.8 1284.3,255.7 1285.7,257.5 1287.1,253.1 1288.6,242.5 1290.0,228.5 1291.4,216.1 1292.8,210.0 1294.2,208.8 1295.6,210.9 1297.3,216.1 1299.1,220.2 1301.2,221.8 1304.0,221.8 1306.5,221.4 1308.3,216.1 1309.7,205.6 1310.7,196.8 1311.8,195.0 1312.8,200.3 1313.7,214.4 1314.4,237.3 1315.1,267.2 1315.8,302.4 1316.5,337.6 1317.2,340.0 1317.9,357.6 1318.6,378.7 1319.3,401.6 1320.1,424.5 1320.8,440.3 1321.5,443.0 1322.2,438.6 1323.0,421.0 1324.1,399.8 1325.2,378.7 1326.2,361.1 1327.3,349.7 1327.3,349.9 1328.7,342.0 1330.1,340.7 1331.5,343.7 1332.9,348.1 1334.3,349.9 1335.7,342.9 1336.9,328.8 1338.2,307.7 1339.6,286.5 1341.0,268.9 1342.4,261.9 1344.0,257.5 1345.7,252.8 1347.5,248.7 1349.8,245.2 1351.9,242.5 1354.0,239.9 1355.8,235.5 1357.5,230.2 1359.3,224.1 1361.6,219.7 1363.9,215.3 1366.0,210.0 1367.7,203.8 1369.5,197.7 1371.3,195.0 1373.0,195.4 1374.4,200.3 1375.8,207.3 1377.2,212.3 1379.2,213.0 1381.1,210.0 1383.2,206.5 1385.3,205.1 1387.5,205.6 1389.4,208.2 1391.1,212.6 1392.7,214.4 1394.1,212.6 1395.4,205.6 1396.8,193.3 1398.2,182.7 1399.4,177.1 1400.8,175.7 1402.1,178.3 1403.5,188.0 1405.1,200.3 1406.5,212.6 1407.9,224.9 1409.3,237.3 1410.7,249.6 1412.1,261.9 1413.5,273.3 1414.9,278.6 1416.7,280.4 1418.4,281.3 1419.5,290.1 1420.2,307.7 1420.9,332.3 1421.6,340.0 1422.3,362.9 1423.2,385.8 1424.1,406.9 1425.1,424.5 1426.2,438.6 1427.2,444.2 1428.3,440.3 1429.3,428.0 1430.4,410.4 1431.4,391.0 1432.5,371.7 1433.6,352.3 1433.7,346.4 1435.0,325.3 1436.4,302.4 1437.8,281.3 1439.2,260.1 1440.6,240.8 1442.0,226.7 1443.4,217.9 1445.2,212.6 1447.3,210.0 1449.6,205.6 1451.3,202.6 1453.1,202.1 1454.9,204.7 1456.3,212.6 1457.5,223.2 1458.9,237.3 1460.3,251.3 1461.7,267.2 1463.1,284.8 1464.5,300.6 1465.9,318.2 1467.3,335.8 1468.8,349.9 1469.8,359.6 1470.9,360.5 1471.9,349.9 1473.0,334.1 1474.2,311.2 1475.4,286.5 1476.9,261.9 1478.3,239.0 1479.7,221.4 1481.3,212.6 1483.0,209.5 1485.3,210.0 1487.4,213.5 1490.1,215.3 1492.3,216.1 1493.9,221.4 1495.3,235.5 1496.7,253.1 1498.0,268.9 1499.2,283.0 1500.6,295.3 1502.0,302.4 1503.8,305.9 1505.4,311.2 1506.8,320.0 1508.2,328.8 1509.6,333.2 1511.0,330.5 1512.4,320.0 1513.8,302.4 1515.2,279.5 1516.6,258.4 1518.0,247.8 1519.6,244.7 1521.2,246.1 1522.6,254.9 1524.0,268.9 1525.4,284.8 1526.8,302.4 1528.2,320.0 1529.6,334.1 1530.0,337.6 1531.1,349.9 1531.1,350.6 1532.1,366.4 1533.2,382.2 1534.2,398.1 1535.3,410.4 1536.7,415.3 1538.1,408.6 1539.2,392.8 1540.2,371.7 1541.3,350.6 1542.0,328.8 1543.0,302.4 1544.1,284.8 1545.1,268.9 1546.2,256.6 1547.2,247.8 1548.7,241.7 1550.1,239.9 1551.1,239.6 1552.5,244.3 1553.6,254.9 1554.6,268.9 1555.7,283.0 1556.7,290.9 1557.8,292.7 1558.9,286.5 1559.9,274.2 1561.0,263.7 1562.0,261.0 1563.4,260.5 1564.5,265.4 1565.9,274.2 1567.3,278.6 1568.7,279.9 1570.1,277.7 1571.5,268.9 1572.9,258.4 1574.3,247.8 1575.8,239.0 1577.2,231.1 1578.6,224.9 1580.3,219.7 1582.1,217.0 1584.2,216.5 1586.3,216.1 1588.4,213.5 1590.5,209.1 1592.7,203.8 1594.4,195.0 1596.2,187.1 1597.9,181.8 1599.7,180.6 1601.4,181.0 1603.2,184.5 1605.0,191.5 1606.7,202.1 1608.1,212.6 1609.5,224.9 1611.0,235.5 1612.4,240.8 1613.8,241.1 1615.2,235.5 1616.6,226.7 1618.0,218.8 1619.8,214.4 1621.9,213.5 1624.0,213.9 1626.1,215.3 1628.2,218.8 1630.3,223.2 1632.4,228.5 1634.5,232.9 1636.6,235.5 1638.8,237.6 1640.9,238.1 1642.6,236.4 1644.4,232.0 1646.1,230.6 1647.9,232.0 1649.7,236.4 1651.4,242.5 1653.2,249.6 1654.6,258.4 1655.7,268.9 1656.7,284.8 1657.8,302.4 1658.5,321.7 1659.2,342.9 1658.5,350.6 1659.5,368.2 1660.2,385.8 1660.9,401.6 1661.6,407.8 1662.3,405.1 1663.0,392.8 1664.1,375.2 1665.2,357.6 1666.2,345.3 1666.6,346.4 1667.6,335.8 1669.0,328.8 1670.4,320.0 1671.8,305.9 1673.3,290.1 1674.7,276.0 1676.1,265.4 1677.5,261.0 1678.9,260.5 1680.3,263.7 1681.7,268.1 1683.1,270.7 1684.9,270.4 1686.6,265.4 1688.4,256.6 1690.1,246.1 1691.9,237.3 1693.7,230.2 1695.4,225.8 1697.2,224.1 1698.9,223.7 1700.7,225.8 1702.5,232.0 1703.9,240.8 1705.3,251.3 1706.7,260.1 1708.1,266.3 1709.5,268.1 1710.9,264.5 1712.3,254.9 1713.7,244.3 1715.1,235.5 1716.9,226.7 1718.7,219.7 1720.4,214.4 1722.2,211.2 1723.9,210.5 1725.7,211.7 1727.8,214.0 1729.9,215.3 1732.0,215.3 1734.1,217.0 1735.5,221.4 1737.0,230.2 1738.4,244.3 1739.8,260.1 1740.8,270.7 1741.9,274.2 1742.9,270.7 1744.0,258.4 1745.1,242.5 1746.1,226.7 1747.2,214.4 1748.6,205.6 1750.3,200.7 1752.4,198.6 1754.6,196.8 1756.7,194.7 1758.8,192.9 1760.5,192.6 1762.3,195.9 1763.7,203.8 1765.1,214.4 1766.5,223.2 1767.9,228.5 1769.7,230.2 1771.4,228.5 1773.2,224.9 1775.0,221.4 1776.7,217.9 1778.5,215.3 1780.2,212.6 1781.7,208.2 1783.1,204.7 1784.8,202.6 1786.6,203.0 1788.3,207.3 1790.1,214.4 1791.5,223.2 1792.9,231.1 1794.3,234.6 1796.1,235.2 1797.8,232.0 1799.6,227.6 1801.0,224.9 1802.4,224.6 1803.8,226.7 1804.9,233.7 1806.3,240.8 1807.7,244.3 1809.1,243.4 1810.5,237.3 1811.9,230.2 1813.3,226.4 1815.1,225.8 1816.9,228.5 1818.6,230.6 1820.7,229.9 1822.8,229.3 1824.6,231.1 1826.0,237.3 1827.4,246.1 1828.8,254.9 1830.2,262.8 1831.6,266.3 1833.4,267.2 1835.2,264.5 1836.9,261.0 1838.3,260.5 1839.7,263.7 1841.1,269.8 1842.5,276.0 1844.0,279.5 1845.4,279.9 1846.8,274.2 1847.8,269.8 1849.2,268.9 1850.3,276.0 1851.0,293.6 1851.7,314.7 1852.4,337.6 1853.1,355.2 1853.5,357.6 1854.2,368.2 1855.2,377.0 1856.3,371.7 1857.0,357.6 1856.9,359.5 1857.7,344.9 1858.4,332.8 1859.1,325.5 1860.1,323.0 1861.1,324.2 1862.0,329.1 1863.0,335.2 1864.0,340.1 1865.2,343.1 1866.4,344.3 1867.6,344.7"/>
</g>
<g id="ylabels">
<text class="tick" text-anchor="end" transform="translate(252.5,1170.7) scale(1,1.045)">10</text>
<text class="tick" text-anchor="end" transform="translate(252.5,1038.7) scale(1,1.045)">20</text>
<text class="tick" text-anchor="end" transform="translate(252.5,906.7) scale(1,1.045)">30</text>
<text class="tick" text-anchor="end" transform="translate(252.5,774.7) scale(1,1.045)">40</text>
<text class="tick" text-anchor="end" transform="translate(252.5,642.7) scale(1,1.045)">50</text>
<text class="tick" text-anchor="end" transform="translate(252.5,510.7) scale(1,1.045)">60</text>
<text class="tick" text-anchor="end" transform="translate(252.5,378.7) scale(1,1.045)">70</text>
<text class="tick" text-anchor="end" transform="translate(252.5,246.7) scale(1,1.045)">80</text>
<text class="tick" text-anchor="end" transform="translate(252.5,114.7) scale(1,1.045)">90</text>
</g>
<g id="xlabels">
<text class="tick" text-anchor="middle" transform="translate(342.3,1298.7) scale(1,1.045)">3500</text>
<text class="tick" text-anchor="middle" transform="translate(592.2,1298.7) scale(1,1.045)">3000</text>
<text class="tick" text-anchor="middle" transform="translate(842.2,1298.7) scale(1,1.045)">2500</text>
<text class="tick" text-anchor="middle" transform="translate(1092.1,1298.7) scale(1,1.045)">2000</text>
<text class="tick" text-anchor="middle" transform="translate(1342.1,1298.7) scale(1,1.045)">1500</text>
<text class="tick" text-anchor="middle" transform="translate(1592.0,1298.7) scale(1,1.045)">1000</text>
<text class="tick" text-anchor="middle" transform="translate(1842.0,1298.7) scale(1,1.045)">500</text>
</g>
<text class="ttl" text-anchor="start" transform="translate(877.0,1441.0) scale(1,1.045)">Wavenumbers [cm<tspan style="font-size:40px" dx="-2" dy="-26">-1</tspan><tspan dx="1" dy="26">]</tspan></text>
<text class="ttl" transform="translate(79.3,668) rotate(-90) scale(1,1.045)">T [%]</text>
<g id="legend">
<rect x="788" y="723" width="365" height="476" fill="#fff" stroke="#000" stroke-width="2" shape-rendering="crispEdges"/>
<rect x="812" y="785" width="131" height="2" fill="#000000" shape-rendering="crispEdges"/>
<text class="leg" text-anchor="start" transform="translate(959.0,806.1) scale(1,1.045)">PA</text>
<rect x="812" y="856" width="131" height="2" fill="#ff0000" shape-rendering="crispEdges"/>
<text class="leg" text-anchor="start" transform="translate(959.0,877.8) scale(1,1.045)">DNB</text>
<rect x="812" y="928" width="131" height="2" fill="#00ff00" shape-rendering="crispEdges"/>
<text class="leg" text-anchor="start" transform="translate(959.0,949.5) scale(1,1.045)">p-NBA</text>
<rect x="812" y="1000" width="131" height="2" fill="#0000ff" shape-rendering="crispEdges"/>
<text class="leg" text-anchor="start" transform="translate(959.0,1021.2) scale(1,1.045)">DCQ</text>
<rect x="812" y="1071" width="131" height="2" fill="#00ffff" shape-rendering="crispEdges"/>
<text class="leg" text-anchor="start" transform="translate(959.0,1092.9) scale(1,1.045)">DBQ</text>
<rect x="812" y="1143" width="131" height="2" fill="#ff00ff" shape-rendering="crispEdges"/>
<text class="leg" text-anchor="start" transform="translate(959.0,1164.6) scale(1,1.045)">TCNQ</text>
</g>
</svg>
</body>
</html>
